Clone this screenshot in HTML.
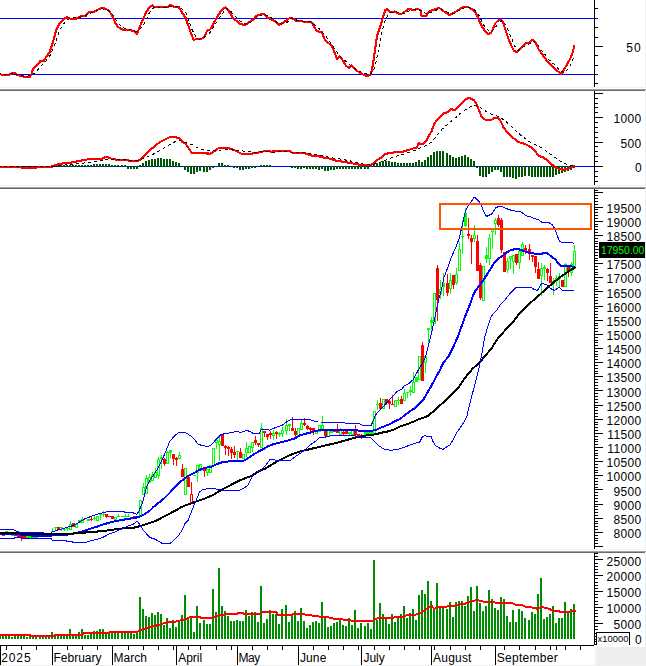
<!DOCTYPE html>
<html><head><meta charset="utf-8"><style>
html,body{margin:0;padding:0;background:#fff;}
body{width:646px;height:666px;overflow:hidden;}
svg{display:block;}
text{font-family:"Liberation Sans",sans-serif;}
</style></head><body>
<svg width="646" height="666" viewBox="0 0 646 666" shape-rendering="crispEdges">
<rect x="0" y="0" width="646" height="666" fill="#ffffff"/>
<rect x="0" y="18" width="594" height="1" fill="#0000ff"/>
<rect x="0" y="74" width="594" height="1" fill="#0000ff"/>
<polyline points="-2.00,73.90 0.00,73.90 2.00,75.20 5.20,75.20 9.20,74.80 12.40,72.90 15.00,73.20 17.00,75.20 20.90,75.80 24.80,76.90 30.10,76.90 31.40,74.50 32.70,69.90 35.30,66.70 39.20,62.70 40.50,60.80 43.80,60.80 45.80,57.50 49.70,52.30 51.60,46.40 54.20,37.90 55.60,32.00 58.20,25.50 61.40,21.60 64.70,18.30 67.30,17.30 71.20,19.00 75.80,19.00 80.00,16.70 83.30,15.90 85.90,15.70 88.50,12.40 90.50,11.80 94.40,11.50 98.30,9.40 101.60,8.10 104.80,8.50 107.50,9.80 110.10,12.40 112.70,17.00 115.30,22.90 117.90,26.80 121.80,29.40 125.80,29.80 129.70,29.80 133.60,31.10 136.90,34.00 138.80,29.40 141.40,22.90 144.10,17.00 146.00,12.40 148.60,8.50 152.50,5.20 154.50,7.20 157.10,7.20 160.00,6.50 163.90,7.00 167.80,7.00 170.50,5.00 173.10,6.50 179.00,7.30 181.60,11.80 185.50,17.60 188.10,24.80 190.70,32.70 193.70,39.90 197.90,38.60 201.80,38.60 204.40,36.60 207.10,30.70 210.30,29.40 213.60,23.50 217.50,16.30 221.40,10.50 225.40,7.20 229.30,11.80 233.20,18.30 236.50,20.90 240.00,24.20 245.20,24.80 249.20,22.20 253.10,19.60 256.30,15.90 259.60,14.60 263.50,13.70 267.50,17.60 271.40,19.60 274.60,20.90 278.60,24.80 281.80,23.50 285.80,20.90 290.30,17.60 292.30,18.30 296.20,20.70 301.40,21.20 305.40,22.00 310.60,21.60 313.20,24.80 316.50,30.70 320.00,32.00 322.00,32.00 324.60,39.20 327.80,42.50 331.80,45.80 334.40,52.30 337.00,58.80 339.60,56.20 342.20,59.50 346.10,66.00 349.40,68.00 351.40,65.40 355.30,69.30 359.20,72.50 363.10,74.50 367.10,76.10 371.00,74.50 372.90,64.10 374.90,51.00 376.90,36.60 379.50,28.80 382.10,20.30 385.40,9.80 387.30,9.20 390.60,12.40 394.50,11.50 397.10,13.10 400.00,14.10 403.30,13.10 407.80,8.90 410.50,9.40 414.40,9.80 418.30,8.90 420.90,11.10 421.60,15.70 426.10,15.70 428.80,12.00 432.00,10.20 435.30,9.20 439.20,7.80 442.50,10.50 445.80,12.80 449.70,15.00 453.60,13.10 457.50,10.50 461.40,7.80 465.40,6.80 468.60,7.20 471.90,9.20 475.20,11.80 477.80,17.00 480.00,22.90 482.60,27.50 485.90,32.00 488.50,34.20 491.10,32.70 493.10,28.80 495.00,23.50 497.60,20.90 500.70,19.30 502.90,22.20 505.50,30.10 508.10,37.90 511.40,45.80 514.00,51.00 516.60,52.00 520.50,48.40 525.80,43.10 529.00,42.50 532.60,39.90 535.20,41.80 539.20,50.30 543.10,55.60 547.00,60.80 550.90,65.40 554.80,68.60 558.10,71.60 561.40,74.20 564.00,69.30 567.30,64.10 570.50,58.20 572.50,52.90 574.40,45.80" fill="none" stroke="#ff0000" stroke-width="2.1" stroke-linejoin="round" stroke-linecap="round"/>
<polyline points="-2.00,73.20 0.00,73.20 3.90,74.50 7.80,74.80 13.10,73.20 18.30,75.20 26.10,76.50 31.40,75.20 34.60,73.20 39.20,68.00 44.40,62.70 49.70,56.20 54.90,44.40 58.80,32.70 62.70,24.80 66.70,20.30 70.60,18.30 80.00,17.30 85.20,15.90 90.50,13.10 95.70,11.10 100.90,8.90 106.10,9.20 110.10,11.80 114.00,16.30 117.90,22.90 121.80,26.80 125.80,29.00 132.30,30.30 136.20,31.40 140.10,29.00 144.10,24.20 147.30,17.00 150.60,10.50 154.50,7.20 160.00,7.00 166.50,7.20 171.80,6.00 179.00,7.00 182.90,9.80 186.10,13.10 188.80,20.30 192.00,29.40 195.30,35.90 199.20,39.20 203.10,37.90 207.10,35.30 211.60,30.70 216.20,22.90 220.10,17.00 224.10,11.10 226.70,8.50 230.60,11.10 235.20,16.30 240.00,20.90 245.20,24.20 250.50,22.20 255.70,18.30 260.90,15.40 264.80,14.40 268.80,16.30 274.00,19.60 277.90,23.50 281.80,24.20 287.10,22.20 291.00,18.30 294.90,19.60 300.10,20.90 305.40,21.60 310.60,22.00 314.50,24.80 320.00,29.50 322.60,32.40 326.50,37.30 331.80,44.40 335.70,50.30 339.60,55.60 344.80,60.10 348.80,64.10 354.00,68.00 359.20,71.20 364.40,73.20 369.70,74.50 372.30,72.50 374.90,66.70 377.50,54.90 380.10,41.80 382.70,28.80 385.40,19.60 388.00,15.00 391.20,12.40 395.80,11.50 400.00,13.10 403.90,13.70 407.80,11.50 413.10,9.80 418.30,9.40 421.60,11.10 426.10,13.70 431.40,12.40 435.30,10.50 439.20,8.90 444.40,10.50 449.70,13.70 454.90,13.10 460.10,9.80 465.40,7.20 469.30,7.60 474.50,9.80 478.40,14.40 480.00,17.00 482.60,23.50 486.50,28.80 490.50,32.00 494.40,28.80 498.30,23.50 501.60,20.90 505.50,24.20 508.10,30.10 511.40,37.90 514.60,45.80 517.90,50.30 523.10,47.10 528.40,44.40 533.60,41.20 537.50,44.40 541.40,50.30 545.40,54.90 549.30,60.10 554.50,64.70 558.10,68.60 561.40,71.90 565.30,72.20 569.20,67.30 571.80,62.10 574.40,56.20" fill="none" stroke="#000000" stroke-width="1" stroke-dasharray="3,3"/>
<rect x="0" y="166" width="594" height="1" fill="#0000ff"/>
<rect x="20" y="166" width="2" height="2" fill="#005500"/>
<rect x="23" y="166" width="2" height="2" fill="#005500"/>
<rect x="26" y="166" width="2" height="2" fill="#005500"/>
<rect x="29" y="166" width="2" height="2" fill="#005500"/>
<rect x="32" y="166" width="2" height="2" fill="#005500"/>
<rect x="35" y="166" width="2" height="2" fill="#005500"/>
<rect x="51" y="165" width="2" height="2" fill="#005500"/>
<rect x="54" y="165" width="2" height="2" fill="#005500"/>
<rect x="57" y="165" width="2" height="2" fill="#005500"/>
<rect x="60" y="165" width="2" height="2" fill="#005500"/>
<rect x="63" y="165" width="2" height="2" fill="#005500"/>
<rect x="66" y="165" width="2" height="2" fill="#005500"/>
<rect x="69" y="165" width="2" height="2" fill="#005500"/>
<rect x="72" y="165" width="2" height="2" fill="#005500"/>
<rect x="75" y="165" width="2" height="2" fill="#005500"/>
<rect x="78" y="165" width="2" height="2" fill="#005500"/>
<rect x="81" y="165" width="2" height="2" fill="#005500"/>
<rect x="84" y="165" width="2" height="2" fill="#005500"/>
<rect x="87" y="165" width="2" height="2" fill="#005500"/>
<rect x="90" y="165" width="2" height="2" fill="#005500"/>
<rect x="93" y="164" width="2" height="3" fill="#005500"/>
<rect x="96" y="164" width="2" height="3" fill="#005500"/>
<rect x="99" y="164" width="2" height="3" fill="#005500"/>
<rect x="102" y="164" width="2" height="3" fill="#005500"/>
<rect x="105" y="164" width="2" height="3" fill="#005500"/>
<rect x="108" y="164" width="2" height="3" fill="#005500"/>
<rect x="111" y="165" width="2" height="2" fill="#005500"/>
<rect x="114" y="165" width="2" height="2" fill="#005500"/>
<rect x="117" y="165" width="2" height="2" fill="#005500"/>
<rect x="121" y="165" width="2" height="2" fill="#005500"/>
<rect x="124" y="165" width="2" height="2" fill="#005500"/>
<rect x="127" y="166" width="2" height="3" fill="#005500"/>
<rect x="130" y="166" width="2" height="3" fill="#005500"/>
<rect x="133" y="166" width="2" height="3" fill="#005500"/>
<rect x="136" y="166" width="2" height="3" fill="#005500"/>
<rect x="139" y="165" width="2" height="2" fill="#005500"/>
<rect x="142" y="163" width="2" height="4" fill="#005500"/>
<rect x="145" y="161" width="2" height="6" fill="#005500"/>
<rect x="148" y="160" width="2" height="7" fill="#005500"/>
<rect x="151" y="159" width="2" height="8" fill="#005500"/>
<rect x="154" y="159" width="2" height="8" fill="#005500"/>
<rect x="157" y="158" width="2" height="9" fill="#005500"/>
<rect x="160" y="158" width="2" height="9" fill="#005500"/>
<rect x="163" y="159" width="2" height="8" fill="#005500"/>
<rect x="166" y="159" width="2" height="8" fill="#005500"/>
<rect x="169" y="159" width="2" height="8" fill="#005500"/>
<rect x="172" y="161" width="2" height="6" fill="#005500"/>
<rect x="175" y="162" width="2" height="5" fill="#005500"/>
<rect x="178" y="163" width="2" height="4" fill="#005500"/>
<rect x="184" y="166" width="2" height="4" fill="#005500"/>
<rect x="187" y="166" width="2" height="6" fill="#005500"/>
<rect x="190" y="166" width="2" height="8" fill="#005500"/>
<rect x="193" y="166" width="2" height="8" fill="#005500"/>
<rect x="196" y="166" width="2" height="6" fill="#005500"/>
<rect x="199" y="166" width="2" height="5" fill="#005500"/>
<rect x="203" y="166" width="2" height="6" fill="#005500"/>
<rect x="206" y="166" width="2" height="6" fill="#005500"/>
<rect x="209" y="166" width="2" height="4" fill="#005500"/>
<rect x="212" y="166" width="2" height="2" fill="#005500"/>
<rect x="218" y="163" width="2" height="4" fill="#005500"/>
<rect x="221" y="163" width="2" height="4" fill="#005500"/>
<rect x="224" y="165" width="2" height="2" fill="#005500"/>
<rect x="227" y="165" width="2" height="2" fill="#005500"/>
<rect x="233" y="166" width="2" height="2" fill="#005500"/>
<rect x="236" y="166" width="2" height="2" fill="#005500"/>
<rect x="239" y="166" width="2" height="4" fill="#005500"/>
<rect x="242" y="166" width="2" height="4" fill="#005500"/>
<rect x="245" y="166" width="2" height="3" fill="#005500"/>
<rect x="248" y="166" width="2" height="3" fill="#005500"/>
<rect x="251" y="166" width="2" height="2" fill="#005500"/>
<rect x="254" y="166" width="2" height="2" fill="#005500"/>
<rect x="260" y="165" width="2" height="2" fill="#005500"/>
<rect x="263" y="165" width="2" height="2" fill="#005500"/>
<rect x="266" y="165" width="2" height="2" fill="#005500"/>
<rect x="269" y="165" width="2" height="2" fill="#005500"/>
<rect x="291" y="166" width="2" height="2" fill="#005500"/>
<rect x="294" y="166" width="2" height="2" fill="#005500"/>
<rect x="297" y="166" width="2" height="3" fill="#005500"/>
<rect x="300" y="166" width="2" height="3" fill="#005500"/>
<rect x="303" y="166" width="2" height="2" fill="#005500"/>
<rect x="306" y="166" width="2" height="3" fill="#005500"/>
<rect x="309" y="166" width="2" height="3" fill="#005500"/>
<rect x="312" y="166" width="2" height="3" fill="#005500"/>
<rect x="315" y="166" width="2" height="3" fill="#005500"/>
<rect x="318" y="166" width="2" height="4" fill="#005500"/>
<rect x="321" y="166" width="2" height="3" fill="#005500"/>
<rect x="324" y="166" width="2" height="5" fill="#005500"/>
<rect x="327" y="166" width="2" height="5" fill="#005500"/>
<rect x="330" y="166" width="2" height="4" fill="#005500"/>
<rect x="333" y="166" width="2" height="4" fill="#005500"/>
<rect x="336" y="166" width="2" height="3" fill="#005500"/>
<rect x="339" y="166" width="2" height="3" fill="#005500"/>
<rect x="342" y="166" width="2" height="3" fill="#005500"/>
<rect x="345" y="166" width="2" height="3" fill="#005500"/>
<rect x="348" y="166" width="2" height="3" fill="#005500"/>
<rect x="351" y="166" width="2" height="3" fill="#005500"/>
<rect x="354" y="166" width="2" height="3" fill="#005500"/>
<rect x="357" y="166" width="2" height="3" fill="#005500"/>
<rect x="360" y="166" width="2" height="3" fill="#005500"/>
<rect x="364" y="166" width="2" height="3" fill="#005500"/>
<rect x="367" y="166" width="2" height="3" fill="#005500"/>
<rect x="370" y="165" width="2" height="2" fill="#005500"/>
<rect x="373" y="164" width="2" height="3" fill="#005500"/>
<rect x="376" y="163" width="2" height="4" fill="#005500"/>
<rect x="379" y="162" width="2" height="5" fill="#005500"/>
<rect x="382" y="161" width="2" height="6" fill="#005500"/>
<rect x="385" y="161" width="2" height="6" fill="#005500"/>
<rect x="388" y="161" width="2" height="6" fill="#005500"/>
<rect x="391" y="162" width="2" height="5" fill="#005500"/>
<rect x="394" y="162" width="2" height="5" fill="#005500"/>
<rect x="397" y="163" width="2" height="4" fill="#005500"/>
<rect x="400" y="163" width="2" height="4" fill="#005500"/>
<rect x="403" y="163" width="2" height="4" fill="#005500"/>
<rect x="406" y="163" width="2" height="4" fill="#005500"/>
<rect x="409" y="163" width="2" height="4" fill="#005500"/>
<rect x="412" y="163" width="2" height="4" fill="#005500"/>
<rect x="415" y="162" width="2" height="5" fill="#005500"/>
<rect x="418" y="160" width="2" height="7" fill="#005500"/>
<rect x="421" y="162" width="2" height="5" fill="#005500"/>
<rect x="424" y="160" width="2" height="7" fill="#005500"/>
<rect x="427" y="157" width="2" height="10" fill="#005500"/>
<rect x="430" y="155" width="2" height="12" fill="#005500"/>
<rect x="433" y="152" width="2" height="15" fill="#005500"/>
<rect x="436" y="151" width="2" height="16" fill="#005500"/>
<rect x="439" y="151" width="2" height="16" fill="#005500"/>
<rect x="442" y="151" width="2" height="16" fill="#005500"/>
<rect x="446" y="153" width="2" height="14" fill="#005500"/>
<rect x="449" y="155" width="2" height="12" fill="#005500"/>
<rect x="452" y="157" width="2" height="10" fill="#005500"/>
<rect x="455" y="158" width="2" height="9" fill="#005500"/>
<rect x="458" y="157" width="2" height="10" fill="#005500"/>
<rect x="461" y="156" width="2" height="11" fill="#005500"/>
<rect x="464" y="155" width="2" height="12" fill="#005500"/>
<rect x="467" y="157" width="2" height="10" fill="#005500"/>
<rect x="470" y="159" width="2" height="8" fill="#005500"/>
<rect x="473" y="161" width="2" height="6" fill="#005500"/>
<rect x="476" y="166" width="2" height="2" fill="#005500"/>
<rect x="479" y="166" width="2" height="10" fill="#005500"/>
<rect x="482" y="166" width="2" height="11" fill="#005500"/>
<rect x="485" y="166" width="2" height="11" fill="#005500"/>
<rect x="488" y="166" width="2" height="8" fill="#005500"/>
<rect x="491" y="166" width="2" height="6" fill="#005500"/>
<rect x="494" y="166" width="2" height="4" fill="#005500"/>
<rect x="497" y="166" width="2" height="4" fill="#005500"/>
<rect x="500" y="166" width="2" height="6" fill="#005500"/>
<rect x="503" y="166" width="2" height="11" fill="#005500"/>
<rect x="506" y="166" width="2" height="11" fill="#005500"/>
<rect x="509" y="166" width="2" height="11" fill="#005500"/>
<rect x="512" y="166" width="2" height="12" fill="#005500"/>
<rect x="515" y="166" width="2" height="13" fill="#005500"/>
<rect x="518" y="166" width="2" height="11" fill="#005500"/>
<rect x="521" y="166" width="2" height="11" fill="#005500"/>
<rect x="524" y="166" width="2" height="10" fill="#005500"/>
<rect x="528" y="166" width="2" height="10" fill="#005500"/>
<rect x="531" y="166" width="2" height="11" fill="#005500"/>
<rect x="534" y="166" width="2" height="11" fill="#005500"/>
<rect x="537" y="166" width="2" height="11" fill="#005500"/>
<rect x="540" y="166" width="2" height="11" fill="#005500"/>
<rect x="543" y="166" width="2" height="11" fill="#005500"/>
<rect x="546" y="166" width="2" height="11" fill="#005500"/>
<rect x="549" y="166" width="2" height="11" fill="#005500"/>
<rect x="552" y="166" width="2" height="11" fill="#005500"/>
<rect x="555" y="166" width="2" height="9" fill="#005500"/>
<rect x="558" y="166" width="2" height="8" fill="#005500"/>
<rect x="561" y="166" width="2" height="7" fill="#005500"/>
<rect x="564" y="166" width="2" height="6" fill="#005500"/>
<rect x="567" y="166" width="2" height="5" fill="#005500"/>
<rect x="570" y="166" width="2" height="4" fill="#005500"/>
<rect x="573" y="166" width="2" height="2" fill="#005500"/>
<polyline points="-2.00,166.60 0.00,166.60 20.10,166.60 21.70,168.20 35.60,168.20 37.90,167.10 52.60,166.60 55.70,164.80 61.90,163.50 69.70,162.90 77.40,161.40 85.10,159.80 92.90,158.60 102.40,158.60 104.30,157.40 108.60,157.40 111.10,158.60 114.80,159.00 116.10,159.90 127.20,159.90 129.10,160.90 138.30,160.90 140.80,159.00 144.50,155.30 149.50,150.30 154.40,146.60 159.40,142.30 162.50,140.80 165.60,139.20 169.30,137.30 172.40,136.70 174.60,137.40 179.30,137.70 182.40,142.00 185.50,143.30 188.60,148.20 191.70,152.90 199.40,153.20 210.20,153.60 213.30,152.10 218.00,148.50 222.60,147.90 228.80,148.20 233.50,149.80 238.10,152.10 241.20,153.60 252.00,153.60 261.30,152.10 266.00,150.50 271.20,151.60 286.70,151.00 289.80,151.30 292.90,152.90 303.70,152.90 306.80,154.00 311.40,155.50 317.60,156.00 323.80,157.50 330.00,158.70 334.70,160.30 342.40,161.70 350.10,162.90 357.90,164.50 366.60,164.90 373.20,164.40 377.20,160.00 380.50,158.10 383.80,154.70 387.70,153.40 391.70,152.80 397.00,152.10 402.30,152.10 405.60,150.80 410.20,149.50 414.20,148.10 416.80,147.50 418.80,142.90 420.80,144.20 423.40,143.50 426.10,140.90 428.70,136.30 432.00,130.30 434.00,124.40 436.60,120.40 439.00,117.80 443.60,112.90 446.90,112.50 450.90,109.40 455.50,109.80 460.10,105.20 465.40,99.30 468.70,97.90 473.30,99.70 476.00,102.60 478.60,109.20 481.20,115.80 485.20,119.70 491.80,119.70 494.40,117.80 498.40,118.20 501.00,121.70 503.70,127.70 506.30,131.00 509.10,133.80 513.30,137.90 518.10,142.00 522.90,143.40 527.00,144.80 531.20,147.50 535.30,151.70 539.40,156.10 543.60,157.50 547.70,160.60 551.80,164.40 554.60,166.80 558.70,168.90 562.90,169.90 567.00,168.90 571.10,167.50 573.90,165.70" fill="none" stroke="#ff0000" stroke-width="2.1" stroke-linejoin="round" stroke-linecap="round"/>
<polyline points="-2.00,166.50 0.00,166.50 50.00,167.00 60.00,165.50 80.00,163.50 95.00,161.50 102.40,160.20 109.90,159.00 119.80,159.40 129.70,160.20 138.30,160.20 144.50,158.40 149.50,155.90 156.90,152.40 163.10,148.50 169.30,144.80 174.60,142.00 179.30,140.50 185.50,142.30 193.20,145.10 199.40,149.00 205.60,150.50 211.80,151.00 218.00,150.50 224.20,149.50 231.90,149.30 239.70,150.50 247.40,151.60 255.10,152.10 262.90,151.60 274.30,152.10 286.70,151.60 296.00,152.60 305.20,152.90 311.40,153.60 319.20,155.20 326.90,156.70 334.70,158.30 342.40,159.40 350.10,160.90 357.90,162.90 365.00,164.50 367.90,164.40 374.50,164.00 381.10,162.00 386.40,160.00 391.70,157.80 397.00,156.10 402.30,154.70 407.60,152.80 412.80,151.20 418.10,148.80 423.40,146.80 428.70,144.20 432.00,141.50 435.30,137.60 441.60,129.60 448.20,123.70 454.80,118.40 461.40,112.50 468.00,107.90 473.30,105.20 477.30,105.90 482.60,109.20 487.80,112.50 493.10,115.10 498.40,116.40 503.70,119.70 510.50,125.50 516.00,131.00 521.50,135.80 527.00,140.00 532.50,143.40 538.10,146.20 543.60,149.00 549.10,153.10 554.60,157.20 560.10,161.00 565.60,163.80 569.70,165.50 573.90,166.10" fill="none" stroke="#000000" stroke-width="1" stroke-dasharray="3,3"/>
<rect x="0" y="533" width="1" height="2" fill="#00ff00"/>
<rect x="-1" y="533" width="3" height="2" fill="#00ff00"/>
<rect x="3" y="535" width="1" height="1" fill="#ff0000"/>
<rect x="2" y="535" width="3" height="1" fill="#ff0000"/>
<rect x="6" y="531" width="1" height="2" fill="#00ff00"/>
<rect x="5" y="531" width="3" height="2" fill="#00ff00"/>
<rect x="9" y="533" width="1" height="2" fill="#00ff00"/>
<rect x="8" y="533" width="3" height="2" fill="#00ff00"/>
<rect x="12" y="535" width="1" height="1" fill="#00ff00"/>
<rect x="11" y="535" width="3" height="1" fill="#00ff00"/>
<rect x="15" y="535" width="1" height="1" fill="#ff0000"/>
<rect x="14" y="535" width="3" height="1" fill="#ff0000"/>
<rect x="18" y="535" width="1" height="3" fill="#ff0000"/>
<rect x="17" y="535" width="3" height="3" fill="#ff0000"/>
<rect x="21" y="536" width="1" height="5" fill="#ff0000"/>
<rect x="20" y="536" width="3" height="2" fill="#ff0000"/>
<rect x="24" y="536" width="1" height="2" fill="#ff0000"/>
<rect x="23" y="536" width="3" height="2" fill="#ff0000"/>
<rect x="27" y="536" width="1" height="2" fill="#00ff00"/>
<rect x="26" y="536" width="3" height="2" fill="#00ff00"/>
<rect x="30" y="536" width="1" height="2" fill="#00ff00"/>
<rect x="29" y="536" width="3" height="2" fill="#00ff00"/>
<rect x="33" y="536" width="1" height="2" fill="#00ff00"/>
<rect x="32" y="536" width="3" height="2" fill="#00ff00"/>
<rect x="36" y="536" width="1" height="2" fill="#00ff00"/>
<rect x="35" y="536" width="3" height="2" fill="#00ff00"/>
<rect x="40" y="533" width="1" height="3" fill="#00ff00"/>
<rect x="39" y="533" width="3" height="3" fill="#00ff00"/>
<rect x="43" y="533" width="1" height="3" fill="#00ff00"/>
<rect x="42" y="533" width="3" height="3" fill="#00ff00"/>
<rect x="46" y="533" width="1" height="3" fill="#ff0000"/>
<rect x="45" y="533" width="3" height="3" fill="#ff0000"/>
<rect x="49" y="533" width="1" height="3" fill="#00ff00"/>
<rect x="48" y="533" width="3" height="3" fill="#00ff00"/>
<rect x="52" y="528" width="1" height="4" fill="#00ff00"/>
<rect x="51" y="531" width="3" height="1" fill="#00ff00"/>
<rect x="55" y="527" width="1" height="4" fill="#00ff00"/>
<rect x="54" y="527" width="3" height="1" fill="#00ff00"/>
<rect x="58" y="527" width="1" height="3" fill="#ff0000"/>
<rect x="57" y="527" width="3" height="3" fill="#ff0000"/>
<rect x="61" y="527" width="1" height="4" fill="#00ff00"/>
<rect x="60" y="527" width="3" height="1" fill="#00ff00"/>
<rect x="64" y="528" width="1" height="3" fill="#00ff00"/>
<rect x="63" y="529" width="3" height="1" fill="#00ff00"/>
<rect x="67" y="528" width="1" height="3" fill="#00ff00"/>
<rect x="66" y="528" width="3" height="1" fill="#00ff00"/>
<rect x="70" y="521" width="1" height="9" fill="#00ff00"/>
<rect x="69" y="524" width="3" height="6" fill="#00ff00"/>
<rect x="70" y="525" width="1" height="4" fill="#ffffff"/>
<rect x="73" y="523" width="1" height="4" fill="#ff0000"/>
<rect x="72" y="523" width="3" height="4" fill="#ff0000"/>
<rect x="76" y="524" width="1" height="4" fill="#00ff00"/>
<rect x="75" y="524" width="3" height="4" fill="#00ff00"/>
<rect x="76" y="525" width="1" height="2" fill="#ffffff"/>
<rect x="79" y="520" width="1" height="3" fill="#00ff00"/>
<rect x="78" y="520" width="3" height="3" fill="#00ff00"/>
<rect x="82" y="517" width="1" height="6" fill="#00ff00"/>
<rect x="81" y="519" width="3" height="4" fill="#00ff00"/>
<rect x="82" y="520" width="1" height="2" fill="#ffffff"/>
<rect x="85" y="518" width="1" height="1" fill="#ff0000"/>
<rect x="84" y="518" width="3" height="1" fill="#ff0000"/>
<rect x="88" y="519" width="1" height="2" fill="#00ff00"/>
<rect x="87" y="519" width="3" height="2" fill="#00ff00"/>
<rect x="91" y="517" width="1" height="4" fill="#ff0000"/>
<rect x="90" y="519" width="3" height="1" fill="#ff0000"/>
<rect x="94" y="516" width="1" height="5" fill="#00ff00"/>
<rect x="93" y="518" width="3" height="1" fill="#00ff00"/>
<rect x="97" y="516" width="1" height="5" fill="#00ff00"/>
<rect x="96" y="516" width="3" height="5" fill="#00ff00"/>
<rect x="97" y="517" width="1" height="3" fill="#ffffff"/>
<rect x="100" y="514" width="1" height="6" fill="#00ff00"/>
<rect x="99" y="514" width="3" height="1" fill="#00ff00"/>
<rect x="103" y="511" width="1" height="6" fill="#00ff00"/>
<rect x="102" y="514" width="3" height="1" fill="#00ff00"/>
<rect x="106" y="514" width="1" height="4" fill="#ff0000"/>
<rect x="105" y="514" width="3" height="3" fill="#ff0000"/>
<rect x="109" y="516" width="1" height="1" fill="#ff0000"/>
<rect x="108" y="516" width="3" height="1" fill="#ff0000"/>
<rect x="112" y="516" width="1" height="3" fill="#ff0000"/>
<rect x="111" y="516" width="3" height="3" fill="#ff0000"/>
<rect x="115" y="517" width="1" height="3" fill="#00ff00"/>
<rect x="114" y="517" width="3" height="3" fill="#00ff00"/>
<rect x="115" y="518" width="1" height="1" fill="#ffffff"/>
<rect x="118" y="514" width="1" height="3" fill="#00ff00"/>
<rect x="117" y="516" width="3" height="1" fill="#00ff00"/>
<rect x="122" y="516" width="1" height="1" fill="#00ff00"/>
<rect x="121" y="516" width="3" height="1" fill="#00ff00"/>
<rect x="125" y="514" width="1" height="3" fill="#00ff00"/>
<rect x="124" y="516" width="3" height="1" fill="#00ff00"/>
<rect x="128" y="514" width="1" height="3" fill="#00ff00"/>
<rect x="127" y="516" width="3" height="1" fill="#00ff00"/>
<rect x="131" y="517" width="1" height="2" fill="#ff0000"/>
<rect x="130" y="517" width="3" height="2" fill="#ff0000"/>
<rect x="134" y="516" width="1" height="2" fill="#ff0000"/>
<rect x="133" y="516" width="3" height="2" fill="#ff0000"/>
<rect x="137" y="516" width="1" height="2" fill="#00ff00"/>
<rect x="136" y="516" width="3" height="2" fill="#00ff00"/>
<rect x="140" y="500" width="1" height="16" fill="#00ff00"/>
<rect x="139" y="500" width="3" height="16" fill="#00ff00"/>
<rect x="140" y="501" width="1" height="14" fill="#ffffff"/>
<rect x="143" y="483" width="1" height="12" fill="#00ff00"/>
<rect x="142" y="487" width="3" height="8" fill="#00ff00"/>
<rect x="143" y="488" width="1" height="6" fill="#ffffff"/>
<rect x="146" y="475" width="1" height="19" fill="#00ff00"/>
<rect x="145" y="478" width="3" height="16" fill="#00ff00"/>
<rect x="146" y="479" width="1" height="14" fill="#ffffff"/>
<rect x="149" y="474" width="1" height="9" fill="#00ff00"/>
<rect x="148" y="477" width="3" height="6" fill="#00ff00"/>
<rect x="149" y="478" width="1" height="4" fill="#ffffff"/>
<rect x="152" y="472" width="1" height="9" fill="#00ff00"/>
<rect x="151" y="475" width="3" height="6" fill="#00ff00"/>
<rect x="152" y="476" width="1" height="4" fill="#ffffff"/>
<rect x="155" y="468" width="1" height="10" fill="#00ff00"/>
<rect x="154" y="472" width="3" height="6" fill="#00ff00"/>
<rect x="155" y="473" width="1" height="4" fill="#ffffff"/>
<rect x="158" y="457" width="1" height="22" fill="#00ff00"/>
<rect x="157" y="459" width="3" height="17" fill="#00ff00"/>
<rect x="158" y="460" width="1" height="15" fill="#ffffff"/>
<rect x="161" y="455" width="1" height="14" fill="#00ff00"/>
<rect x="160" y="457" width="3" height="2" fill="#00ff00"/>
<rect x="164" y="458" width="1" height="8" fill="#ff0000"/>
<rect x="163" y="459" width="3" height="5" fill="#ff0000"/>
<rect x="167" y="451" width="1" height="13" fill="#00ff00"/>
<rect x="166" y="452" width="3" height="12" fill="#00ff00"/>
<rect x="167" y="453" width="1" height="10" fill="#ffffff"/>
<rect x="170" y="450" width="1" height="8" fill="#00ff00"/>
<rect x="169" y="450" width="3" height="3" fill="#00ff00"/>
<rect x="173" y="454" width="1" height="11" fill="#ff0000"/>
<rect x="172" y="454" width="3" height="5" fill="#ff0000"/>
<rect x="176" y="457" width="1" height="9" fill="#ff0000"/>
<rect x="175" y="458" width="3" height="2" fill="#ff0000"/>
<rect x="179" y="452" width="1" height="7" fill="#00ff00"/>
<rect x="178" y="455" width="3" height="4" fill="#00ff00"/>
<rect x="179" y="456" width="1" height="2" fill="#ffffff"/>
<rect x="182" y="464" width="1" height="13" fill="#ff0000"/>
<rect x="181" y="469" width="3" height="8" fill="#ff0000"/>
<rect x="185" y="468" width="1" height="27" fill="#00ff00"/>
<rect x="184" y="468" width="3" height="27" fill="#00ff00"/>
<rect x="185" y="469" width="1" height="25" fill="#ffffff"/>
<rect x="188" y="475" width="1" height="12" fill="#ff0000"/>
<rect x="187" y="477" width="3" height="10" fill="#ff0000"/>
<rect x="191" y="482" width="1" height="22" fill="#ff0000"/>
<rect x="190" y="494" width="3" height="10" fill="#ff0000"/>
<rect x="191" y="495" width="1" height="8" fill="#ffffff"/>
<rect x="194" y="475" width="1" height="1" fill="#00ff00"/>
<rect x="193" y="475" width="3" height="1" fill="#00ff00"/>
<rect x="197" y="465" width="1" height="17" fill="#00ff00"/>
<rect x="196" y="465" width="3" height="8" fill="#00ff00"/>
<rect x="197" y="466" width="1" height="6" fill="#ffffff"/>
<rect x="200" y="464" width="1" height="7" fill="#00ff00"/>
<rect x="199" y="464" width="3" height="7" fill="#00ff00"/>
<rect x="200" y="465" width="1" height="5" fill="#ffffff"/>
<rect x="204" y="467" width="1" height="10" fill="#ff0000"/>
<rect x="203" y="469" width="3" height="2" fill="#ff0000"/>
<rect x="207" y="469" width="1" height="7" fill="#00ff00"/>
<rect x="206" y="469" width="3" height="4" fill="#00ff00"/>
<rect x="207" y="470" width="1" height="2" fill="#ffffff"/>
<rect x="210" y="465" width="1" height="8" fill="#00ff00"/>
<rect x="209" y="465" width="3" height="8" fill="#00ff00"/>
<rect x="210" y="466" width="1" height="6" fill="#ffffff"/>
<rect x="213" y="448" width="1" height="18" fill="#00ff00"/>
<rect x="212" y="448" width="3" height="18" fill="#00ff00"/>
<rect x="213" y="449" width="1" height="16" fill="#ffffff"/>
<rect x="216" y="438" width="1" height="11" fill="#00ff00"/>
<rect x="215" y="440" width="3" height="3" fill="#00ff00"/>
<rect x="216" y="441" width="1" height="1" fill="#ffffff"/>
<rect x="219" y="437" width="1" height="24" fill="#00ff00"/>
<rect x="218" y="441" width="3" height="4" fill="#00ff00"/>
<rect x="219" y="442" width="1" height="2" fill="#ffffff"/>
<rect x="222" y="435" width="1" height="11" fill="#ff0000"/>
<rect x="221" y="435" width="3" height="11" fill="#ff0000"/>
<rect x="225" y="445" width="1" height="10" fill="#ff0000"/>
<rect x="224" y="446" width="3" height="2" fill="#ff0000"/>
<rect x="228" y="446" width="1" height="10" fill="#ff0000"/>
<rect x="227" y="447" width="3" height="2" fill="#ff0000"/>
<rect x="231" y="447" width="1" height="12" fill="#ff0000"/>
<rect x="230" y="449" width="3" height="4" fill="#ff0000"/>
<rect x="234" y="446" width="1" height="12" fill="#ff0000"/>
<rect x="233" y="452" width="3" height="3" fill="#ff0000"/>
<rect x="237" y="451" width="1" height="10" fill="#00ff00"/>
<rect x="236" y="451" width="3" height="1" fill="#00ff00"/>
<rect x="240" y="448" width="1" height="10" fill="#ff0000"/>
<rect x="239" y="452" width="3" height="6" fill="#ff0000"/>
<rect x="243" y="454" width="1" height="5" fill="#00ff00"/>
<rect x="242" y="454" width="3" height="5" fill="#00ff00"/>
<rect x="243" y="455" width="1" height="3" fill="#ffffff"/>
<rect x="246" y="442" width="1" height="15" fill="#00ff00"/>
<rect x="245" y="448" width="3" height="5" fill="#00ff00"/>
<rect x="246" y="449" width="1" height="3" fill="#ffffff"/>
<rect x="249" y="446" width="1" height="7" fill="#00ff00"/>
<rect x="248" y="446" width="3" height="7" fill="#00ff00"/>
<rect x="249" y="447" width="1" height="5" fill="#ffffff"/>
<rect x="252" y="442" width="1" height="10" fill="#00ff00"/>
<rect x="251" y="442" width="3" height="6" fill="#00ff00"/>
<rect x="252" y="443" width="1" height="4" fill="#ffffff"/>
<rect x="255" y="436" width="1" height="9" fill="#ff0000"/>
<rect x="254" y="440" width="3" height="3" fill="#ff0000"/>
<rect x="258" y="443" width="1" height="4" fill="#ff0000"/>
<rect x="257" y="443" width="3" height="2" fill="#ff0000"/>
<rect x="261" y="423" width="1" height="25" fill="#00ff00"/>
<rect x="260" y="428" width="3" height="20" fill="#00ff00"/>
<rect x="261" y="429" width="1" height="18" fill="#ffffff"/>
<rect x="264" y="431" width="1" height="6" fill="#ff0000"/>
<rect x="263" y="431" width="3" height="2" fill="#ff0000"/>
<rect x="267" y="434" width="1" height="6" fill="#ff0000"/>
<rect x="266" y="434" width="3" height="3" fill="#ff0000"/>
<rect x="270" y="431" width="1" height="8" fill="#ff0000"/>
<rect x="269" y="433" width="3" height="2" fill="#ff0000"/>
<rect x="273" y="430" width="1" height="10" fill="#00ff00"/>
<rect x="272" y="433" width="3" height="3" fill="#00ff00"/>
<rect x="273" y="434" width="1" height="1" fill="#ffffff"/>
<rect x="276" y="431" width="1" height="8" fill="#ff0000"/>
<rect x="275" y="432" width="3" height="2" fill="#ff0000"/>
<rect x="279" y="432" width="1" height="5" fill="#00ff00"/>
<rect x="278" y="433" width="3" height="2" fill="#00ff00"/>
<rect x="282" y="427" width="1" height="10" fill="#00ff00"/>
<rect x="281" y="430" width="3" height="4" fill="#00ff00"/>
<rect x="282" y="431" width="1" height="2" fill="#ffffff"/>
<rect x="286" y="419" width="1" height="16" fill="#00ff00"/>
<rect x="285" y="425" width="3" height="6" fill="#00ff00"/>
<rect x="286" y="426" width="1" height="4" fill="#ffffff"/>
<rect x="289" y="424" width="1" height="7" fill="#00ff00"/>
<rect x="288" y="424" width="3" height="2" fill="#00ff00"/>
<rect x="292" y="417" width="1" height="14" fill="#ff0000"/>
<rect x="291" y="428" width="3" height="3" fill="#ff0000"/>
<rect x="295" y="428" width="1" height="10" fill="#ff0000"/>
<rect x="294" y="431" width="3" height="4" fill="#ff0000"/>
<rect x="298" y="428" width="1" height="8" fill="#00ff00"/>
<rect x="297" y="428" width="3" height="8" fill="#00ff00"/>
<rect x="298" y="429" width="1" height="6" fill="#ffffff"/>
<rect x="301" y="420" width="1" height="10" fill="#00ff00"/>
<rect x="300" y="423" width="3" height="7" fill="#00ff00"/>
<rect x="301" y="424" width="1" height="5" fill="#ffffff"/>
<rect x="304" y="418" width="1" height="8" fill="#ff0000"/>
<rect x="303" y="423" width="3" height="2" fill="#ff0000"/>
<rect x="307" y="425" width="1" height="5" fill="#ff0000"/>
<rect x="306" y="426" width="3" height="3" fill="#ff0000"/>
<rect x="310" y="427" width="1" height="4" fill="#ff0000"/>
<rect x="309" y="428" width="3" height="2" fill="#ff0000"/>
<rect x="313" y="428" width="1" height="7" fill="#ff0000"/>
<rect x="312" y="428" width="3" height="3" fill="#ff0000"/>
<rect x="316" y="430" width="1" height="4" fill="#00ff00"/>
<rect x="315" y="430" width="3" height="4" fill="#00ff00"/>
<rect x="316" y="431" width="1" height="2" fill="#ffffff"/>
<rect x="319" y="425" width="1" height="7" fill="#00ff00"/>
<rect x="318" y="425" width="3" height="7" fill="#00ff00"/>
<rect x="319" y="426" width="1" height="5" fill="#ffffff"/>
<rect x="322" y="416" width="1" height="13" fill="#00ff00"/>
<rect x="321" y="425" width="3" height="4" fill="#00ff00"/>
<rect x="322" y="426" width="1" height="2" fill="#ffffff"/>
<rect x="325" y="430" width="1" height="8" fill="#ff0000"/>
<rect x="324" y="430" width="3" height="6" fill="#ff0000"/>
<rect x="328" y="430" width="1" height="7" fill="#00ff00"/>
<rect x="327" y="430" width="3" height="7" fill="#00ff00"/>
<rect x="328" y="431" width="1" height="5" fill="#ffffff"/>
<rect x="331" y="430" width="1" height="3" fill="#00ff00"/>
<rect x="330" y="430" width="3" height="3" fill="#00ff00"/>
<rect x="334" y="430" width="1" height="2" fill="#ff0000"/>
<rect x="333" y="430" width="3" height="2" fill="#ff0000"/>
<rect x="337" y="424" width="1" height="9" fill="#ff0000"/>
<rect x="336" y="430" width="3" height="3" fill="#ff0000"/>
<rect x="340" y="428" width="1" height="7" fill="#00ff00"/>
<rect x="339" y="430" width="3" height="5" fill="#00ff00"/>
<rect x="340" y="431" width="1" height="3" fill="#ffffff"/>
<rect x="343" y="431" width="1" height="5" fill="#ff0000"/>
<rect x="342" y="432" width="3" height="2" fill="#ff0000"/>
<rect x="346" y="431" width="1" height="3" fill="#ff0000"/>
<rect x="345" y="431" width="3" height="3" fill="#ff0000"/>
<rect x="349" y="432" width="1" height="3" fill="#00ff00"/>
<rect x="348" y="432" width="3" height="2" fill="#00ff00"/>
<rect x="352" y="430" width="1" height="5" fill="#00ff00"/>
<rect x="351" y="430" width="3" height="5" fill="#00ff00"/>
<rect x="352" y="431" width="1" height="3" fill="#ffffff"/>
<rect x="355" y="425" width="1" height="11" fill="#ff0000"/>
<rect x="354" y="431" width="3" height="4" fill="#ff0000"/>
<rect x="358" y="434" width="1" height="2" fill="#ff0000"/>
<rect x="357" y="434" width="3" height="2" fill="#ff0000"/>
<rect x="361" y="434" width="1" height="5" fill="#ff0000"/>
<rect x="360" y="435" width="3" height="2" fill="#ff0000"/>
<rect x="365" y="432" width="1" height="3" fill="#00ff00"/>
<rect x="364" y="432" width="3" height="3" fill="#00ff00"/>
<rect x="368" y="432" width="1" height="3" fill="#00ff00"/>
<rect x="367" y="432" width="3" height="3" fill="#00ff00"/>
<rect x="371" y="432" width="1" height="3" fill="#00ff00"/>
<rect x="370" y="432" width="3" height="3" fill="#00ff00"/>
<rect x="374" y="411" width="1" height="23" fill="#00ff00"/>
<rect x="373" y="411" width="3" height="23" fill="#00ff00"/>
<rect x="374" y="412" width="1" height="21" fill="#ffffff"/>
<rect x="377" y="400" width="1" height="10" fill="#00ff00"/>
<rect x="376" y="404" width="3" height="1" fill="#00ff00"/>
<rect x="380" y="398" width="1" height="12" fill="#ff0000"/>
<rect x="379" y="403" width="3" height="6" fill="#ff0000"/>
<rect x="383" y="399" width="1" height="10" fill="#00ff00"/>
<rect x="382" y="399" width="3" height="10" fill="#00ff00"/>
<rect x="383" y="400" width="1" height="8" fill="#ffffff"/>
<rect x="386" y="399" width="1" height="6" fill="#ff0000"/>
<rect x="385" y="399" width="3" height="4" fill="#ff0000"/>
<rect x="389" y="400" width="1" height="9" fill="#ff0000"/>
<rect x="388" y="401" width="3" height="3" fill="#ff0000"/>
<rect x="392" y="395" width="1" height="10" fill="#ff0000"/>
<rect x="391" y="404" width="3" height="1" fill="#ff0000"/>
<rect x="395" y="400" width="1" height="7" fill="#00ff00"/>
<rect x="394" y="400" width="3" height="7" fill="#00ff00"/>
<rect x="395" y="401" width="1" height="5" fill="#ffffff"/>
<rect x="398" y="397" width="1" height="8" fill="#00ff00"/>
<rect x="397" y="400" width="3" height="1" fill="#00ff00"/>
<rect x="401" y="396" width="1" height="8" fill="#ff0000"/>
<rect x="400" y="399" width="3" height="5" fill="#ff0000"/>
<rect x="404" y="389" width="1" height="12" fill="#00ff00"/>
<rect x="403" y="393" width="3" height="8" fill="#00ff00"/>
<rect x="404" y="394" width="1" height="6" fill="#ffffff"/>
<rect x="407" y="392" width="1" height="6" fill="#00ff00"/>
<rect x="406" y="392" width="3" height="1" fill="#00ff00"/>
<rect x="410" y="386" width="1" height="10" fill="#00ff00"/>
<rect x="409" y="390" width="3" height="2" fill="#00ff00"/>
<rect x="413" y="372" width="1" height="21" fill="#00ff00"/>
<rect x="412" y="382" width="3" height="11" fill="#00ff00"/>
<rect x="413" y="383" width="1" height="9" fill="#ffffff"/>
<rect x="416" y="377" width="1" height="5" fill="#00ff00"/>
<rect x="415" y="377" width="3" height="5" fill="#00ff00"/>
<rect x="419" y="356" width="1" height="24" fill="#00ff00"/>
<rect x="418" y="356" width="3" height="24" fill="#00ff00"/>
<rect x="419" y="357" width="1" height="22" fill="#ffffff"/>
<rect x="422" y="342" width="1" height="39" fill="#ff0000"/>
<rect x="421" y="345" width="3" height="36" fill="#ff0000"/>
<rect x="425" y="356" width="1" height="17" fill="#00ff00"/>
<rect x="424" y="356" width="3" height="7" fill="#00ff00"/>
<rect x="425" y="357" width="1" height="5" fill="#ffffff"/>
<rect x="428" y="328" width="1" height="15" fill="#00ff00"/>
<rect x="427" y="328" width="3" height="2" fill="#00ff00"/>
<rect x="431" y="317" width="1" height="15" fill="#00ff00"/>
<rect x="430" y="320" width="3" height="3" fill="#00ff00"/>
<rect x="434" y="293" width="1" height="31" fill="#00ff00"/>
<rect x="433" y="293" width="3" height="31" fill="#00ff00"/>
<rect x="434" y="294" width="1" height="29" fill="#ffffff"/>
<rect x="437" y="265" width="1" height="56" fill="#ff0000"/>
<rect x="436" y="268" width="3" height="32" fill="#ff0000"/>
<rect x="440" y="280" width="1" height="19" fill="#00ff00"/>
<rect x="439" y="289" width="3" height="5" fill="#00ff00"/>
<rect x="440" y="290" width="1" height="3" fill="#ffffff"/>
<rect x="443" y="273" width="1" height="23" fill="#00ff00"/>
<rect x="442" y="283" width="3" height="4" fill="#00ff00"/>
<rect x="447" y="274" width="1" height="22" fill="#ff0000"/>
<rect x="446" y="283" width="3" height="10" fill="#ff0000"/>
<rect x="450" y="273" width="1" height="21" fill="#00ff00"/>
<rect x="449" y="280" width="3" height="9" fill="#00ff00"/>
<rect x="450" y="281" width="1" height="7" fill="#ffffff"/>
<rect x="453" y="275" width="1" height="14" fill="#ff0000"/>
<rect x="452" y="275" width="3" height="10" fill="#ff0000"/>
<rect x="456" y="268" width="1" height="17" fill="#00ff00"/>
<rect x="455" y="274" width="3" height="9" fill="#00ff00"/>
<rect x="456" y="275" width="1" height="7" fill="#ffffff"/>
<rect x="459" y="242" width="1" height="29" fill="#00ff00"/>
<rect x="458" y="249" width="3" height="22" fill="#00ff00"/>
<rect x="459" y="250" width="1" height="20" fill="#ffffff"/>
<rect x="462" y="220" width="1" height="34" fill="#00ff00"/>
<rect x="461" y="236" width="3" height="1" fill="#00ff00"/>
<rect x="465" y="208" width="1" height="19" fill="#00ff00"/>
<rect x="464" y="213" width="3" height="13" fill="#00ff00"/>
<rect x="468" y="218" width="1" height="21" fill="#ff0000"/>
<rect x="467" y="234" width="3" height="2" fill="#ff0000"/>
<rect x="471" y="235" width="1" height="29" fill="#ff0000"/>
<rect x="470" y="238" width="3" height="4" fill="#ff0000"/>
<rect x="474" y="225" width="1" height="17" fill="#00ff00"/>
<rect x="473" y="235" width="3" height="4" fill="#00ff00"/>
<rect x="474" y="236" width="1" height="2" fill="#ffffff"/>
<rect x="477" y="235" width="1" height="36" fill="#ff0000"/>
<rect x="476" y="241" width="3" height="30" fill="#ff0000"/>
<rect x="480" y="263" width="1" height="37" fill="#ff0000"/>
<rect x="479" y="265" width="3" height="33" fill="#ff0000"/>
<rect x="483" y="266" width="1" height="35" fill="#00ff00"/>
<rect x="482" y="266" width="3" height="35" fill="#00ff00"/>
<rect x="483" y="267" width="1" height="33" fill="#ffffff"/>
<rect x="486" y="247" width="1" height="16" fill="#00ff00"/>
<rect x="485" y="255" width="3" height="4" fill="#00ff00"/>
<rect x="489" y="234" width="1" height="31" fill="#00ff00"/>
<rect x="488" y="238" width="3" height="21" fill="#00ff00"/>
<rect x="489" y="239" width="1" height="19" fill="#ffffff"/>
<rect x="492" y="228" width="1" height="21" fill="#00ff00"/>
<rect x="491" y="228" width="3" height="4" fill="#00ff00"/>
<rect x="492" y="229" width="1" height="2" fill="#ffffff"/>
<rect x="495" y="218" width="1" height="17" fill="#00ff00"/>
<rect x="494" y="220" width="3" height="4" fill="#00ff00"/>
<rect x="495" y="221" width="1" height="2" fill="#ffffff"/>
<rect x="498" y="215" width="1" height="12" fill="#ff0000"/>
<rect x="497" y="218" width="3" height="7" fill="#ff0000"/>
<rect x="501" y="218" width="1" height="35" fill="#ff0000"/>
<rect x="500" y="220" width="3" height="30" fill="#ff0000"/>
<rect x="504" y="252" width="1" height="20" fill="#ff0000"/>
<rect x="503" y="252" width="3" height="20" fill="#ff0000"/>
<rect x="507" y="258" width="1" height="15" fill="#00ff00"/>
<rect x="506" y="261" width="3" height="9" fill="#00ff00"/>
<rect x="507" y="262" width="1" height="7" fill="#ffffff"/>
<rect x="510" y="256" width="1" height="13" fill="#00ff00"/>
<rect x="509" y="256" width="3" height="3" fill="#00ff00"/>
<rect x="510" y="257" width="1" height="1" fill="#ffffff"/>
<rect x="513" y="255" width="1" height="19" fill="#00ff00"/>
<rect x="512" y="255" width="3" height="7" fill="#00ff00"/>
<rect x="513" y="256" width="1" height="5" fill="#ffffff"/>
<rect x="516" y="254" width="1" height="11" fill="#ff0000"/>
<rect x="515" y="254" width="3" height="9" fill="#ff0000"/>
<rect x="519" y="251" width="1" height="18" fill="#00ff00"/>
<rect x="518" y="251" width="3" height="12" fill="#00ff00"/>
<rect x="519" y="252" width="1" height="10" fill="#ffffff"/>
<rect x="522" y="242" width="1" height="14" fill="#00ff00"/>
<rect x="521" y="244" width="3" height="12" fill="#00ff00"/>
<rect x="522" y="245" width="1" height="10" fill="#ffffff"/>
<rect x="525" y="245" width="1" height="9" fill="#ff0000"/>
<rect x="524" y="248" width="3" height="3" fill="#ff0000"/>
<rect x="529" y="244" width="1" height="16" fill="#ff0000"/>
<rect x="528" y="249" width="3" height="3" fill="#ff0000"/>
<rect x="532" y="255" width="1" height="7" fill="#ff0000"/>
<rect x="531" y="255" width="3" height="2" fill="#ff0000"/>
<rect x="535" y="256" width="1" height="17" fill="#ff0000"/>
<rect x="534" y="256" width="3" height="11" fill="#ff0000"/>
<rect x="538" y="262" width="1" height="17" fill="#ff0000"/>
<rect x="537" y="269" width="3" height="10" fill="#ff0000"/>
<rect x="541" y="263" width="1" height="33" fill="#00ff00"/>
<rect x="540" y="268" width="3" height="8" fill="#00ff00"/>
<rect x="541" y="269" width="1" height="6" fill="#ffffff"/>
<rect x="544" y="265" width="1" height="15" fill="#00ff00"/>
<rect x="543" y="267" width="3" height="2" fill="#00ff00"/>
<rect x="547" y="268" width="1" height="13" fill="#ff0000"/>
<rect x="546" y="269" width="3" height="4" fill="#ff0000"/>
<rect x="550" y="263" width="1" height="20" fill="#ff0000"/>
<rect x="549" y="276" width="3" height="7" fill="#ff0000"/>
<rect x="553" y="278" width="1" height="17" fill="#00ff00"/>
<rect x="552" y="281" width="3" height="3" fill="#00ff00"/>
<rect x="556" y="275" width="1" height="11" fill="#00ff00"/>
<rect x="555" y="278" width="3" height="3" fill="#00ff00"/>
<rect x="559" y="273" width="1" height="14" fill="#00ff00"/>
<rect x="558" y="276" width="3" height="3" fill="#00ff00"/>
<rect x="562" y="280" width="1" height="7" fill="#ff0000"/>
<rect x="561" y="280" width="3" height="7" fill="#ff0000"/>
<rect x="565" y="263" width="1" height="24" fill="#00ff00"/>
<rect x="564" y="264" width="3" height="23" fill="#00ff00"/>
<rect x="565" y="265" width="1" height="21" fill="#ffffff"/>
<rect x="568" y="266" width="1" height="11" fill="#ff0000"/>
<rect x="567" y="266" width="3" height="5" fill="#ff0000"/>
<rect x="571" y="262" width="1" height="14" fill="#00ff00"/>
<rect x="570" y="264" width="3" height="9" fill="#00ff00"/>
<rect x="571" y="265" width="1" height="7" fill="#ffffff"/>
<rect x="574" y="245" width="1" height="24" fill="#00ff00"/>
<rect x="573" y="251" width="3" height="18" fill="#00ff00"/>
<rect x="574" y="252" width="1" height="16" fill="#ffffff"/>
<polyline points="-2.00,534.00 0.00,534.00 20.00,534.50 36.00,536.00 43.00,536.00 52.00,535.50 65.00,535.10 75.00,533.20 79.30,532.30 82.30,531.40 86.00,530.20 89.70,528.90 93.40,527.70 97.10,526.60 100.90,525.30 104.60,524.10 108.50,522.90 112.00,522.00 115.40,521.20 118.90,520.60 123.10,519.80 125.90,519.20 129.40,518.70 132.90,518.30 136.30,517.60 139.80,516.50 143.30,515.10 146.80,512.70 150.00,510.60 153.20,507.20 158.80,502.70 164.40,498.20 170.00,492.50 175.00,486.80 181.00,481.40 187.00,476.60 193.00,473.60 199.00,470.00 205.00,467.80 211.00,467.00 217.00,464.00 223.00,462.00 229.00,461.40 235.00,461.00 243.00,460.80 246.80,459.30 249.90,456.80 253.00,454.80 259.00,451.30 263.80,448.90 268.70,445.90 273.50,444.10 280.70,442.30 287.90,440.50 295.00,438.40 299.50,435.50 306.30,433.60 313.00,431.80 318.60,430.30 323.20,429.80 351.30,429.60 355.80,430.00 360.30,430.90 369.40,431.00 375.40,430.20 380.00,428.00 385.00,426.00 390.00,424.00 395.00,421.30 400.00,419.00 405.00,415.00 410.00,411.30 415.00,408.00 419.00,404.00 423.40,399.80 427.00,393.10 431.50,385.60 436.50,376.10 440.50,369.10 443.10,362.90 448.10,357.10 453.10,347.20 458.00,336.40 462.10,324.90 466.30,313.30 469.00,306.90 473.10,295.70 475.00,291.20 478.70,286.60 482.40,281.50 486.10,275.90 489.90,269.90 493.60,263.80 498.20,258.70 502.90,255.50 505.50,253.30 510.70,250.10 515.00,249.20 519.10,249.40 523.30,250.80 527.50,252.30 531.70,253.20 536.50,253.90 540.50,253.90 546.80,252.60 551.00,256.30 555.20,259.40 560.50,265.70 564.70,266.20 569.90,266.20 574.10,266.80" fill="none" stroke="#0000ff" stroke-width="2" stroke-linejoin="round" stroke-linecap="round"/>
<polyline points="-2.00,533.00 0.00,533.00 21.00,533.00 22.00,534.00 73.40,534.00 73.70,533.00 85.30,533.00 85.60,532.00 97.10,532.00 97.50,531.00 106.00,530.60 112.00,529.70 118.20,529.00 125.90,528.00 134.20,527.60 139.80,526.20 144.00,524.80 150.00,522.80 153.20,522.00 158.80,519.50 164.40,516.20 170.00,513.40 175.70,510.50 180.00,507.80 185.00,505.50 190.80,503.60 196.00,501.60 201.70,499.70 207.00,497.60 212.50,495.30 217.00,492.60 221.20,490.00 228.80,486.10 234.00,483.30 239.60,480.40 245.00,478.30 250.00,476.50 253.00,475.00 259.00,471.10 265.00,468.70 271.00,465.10 277.10,461.50 283.10,458.50 289.10,455.50 295.10,453.10 301.80,451.00 308.50,449.50 317.50,447.30 326.50,445.20 335.50,443.10 344.50,440.70 353.60,438.00 361.00,436.50 367.00,435.40 376.60,434.20 380.00,433.00 385.00,432.00 390.00,431.00 395.00,429.00 400.00,426.50 405.00,425.00 410.00,423.00 415.00,421.00 419.00,419.00 425.20,417.20 428.90,415.30 433.60,411.10 438.20,407.00 442.90,402.80 445.70,400.50 449.80,396.30 455.00,391.00 460.00,385.50 464.10,379.00 468.30,373.90 472.40,368.90 476.50,365.20 480.70,361.50 484.80,356.10 488.90,351.60 492.10,347.50 496.30,340.50 500.40,335.50 504.50,331.00 508.70,326.40 512.80,322.30 516.90,316.90 520.20,312.60 523.80,308.80 527.40,305.50 531.00,302.30 534.50,299.30 540.50,294.00 546.80,288.20 553.10,283.00 559.40,277.60 564.70,274.00 569.90,270.60 574.60,267.80" fill="none" stroke="#000000" stroke-width="2" stroke-linejoin="round" stroke-linecap="round"/>
<polyline points="-2.00,529.50 0.00,529.50 13.00,529.50 16.00,531.00 21.00,532.50 44.00,533.00 51.00,533.00 53.00,531.50 60.00,529.50 63.70,528.40 67.40,527.30 71.10,526.20 74.90,524.70 78.60,522.50 82.30,520.20 86.00,518.40 89.70,516.90 93.40,515.40 97.10,514.30 100.90,513.20 104.60,512.30 108.10,511.40 123.80,511.40 124.50,512.20 132.90,512.20 133.60,513.20 135.60,513.70 136.70,514.40 137.70,513.00 139.10,510.60 140.70,507.00 142.80,501.60 144.80,493.50 146.80,486.80 148.80,482.00 151.50,478.00 154.20,473.90 156.90,469.90 159.60,464.50 162.40,459.10 165.10,453.00 167.80,446.20 169.80,441.50 172.50,438.10 176.00,434.70 178.00,433.00 180.00,432.30 186.00,432.80 190.50,435.80 195.00,440.30 198.00,444.00 202.50,445.80 208.50,446.30 211.50,444.80 216.00,439.50 220.50,435.00 225.00,433.50 231.00,432.80 237.00,431.30 241.00,432.60 245.80,430.50 250.60,431.40 253.00,433.60 259.00,433.60 261.40,429.60 266.30,429.60 269.90,430.20 272.30,428.80 278.30,426.60 283.10,424.80 286.70,421.80 291.50,419.40 300.00,419.50 308.50,419.20 317.50,422.00 344.40,422.10 345.30,423.50 360.00,424.00 362.00,425.00 365.00,425.40 371.20,425.40 373.00,421.40 375.40,415.00 380.80,409.30 386.30,403.30 391.70,397.30 397.10,391.50 401.70,389.30 404.40,385.80 407.90,384.30 413.30,379.50 418.00,370.60 422.50,363.10 425.50,357.10 428.50,345.00 431.50,333.00 434.50,319.50 436.80,307.90 438.90,298.70 441.40,289.60 444.00,277.30 447.60,268.00 451.50,257.00 455.70,247.50 458.90,239.10 461.50,228.60 463.10,221.30 465.20,211.80 468.30,205.50 471.50,201.30 474.40,197.10 477.20,199.70 479.70,202.40 481.30,205.50 483.40,210.80 486.60,216.50 491.80,213.90 496.00,207.60 499.20,206.30 502.30,206.80 506.50,208.70 512.80,210.80 520.00,211.60 522.30,212.80 525.70,215.60 530.30,216.80 533.70,218.50 538.30,219.40 541.80,222.30 548.60,222.50 552.10,224.80 554.40,228.20 556.70,233.90 559.50,241.40 561.20,242.20 569.30,242.20 573.80,243.30" fill="none" stroke="#0000ff" stroke-width="1"/>
<polyline points="-2.00,538.50 0.00,538.50 14.00,538.50 15.00,537.50 21.00,537.50 22.00,538.50 51.00,538.50 52.00,540.00 66.00,540.00 66.30,541.40 72.00,541.40 72.30,542.50 86.70,542.50 87.10,541.40 89.70,541.00 93.40,540.10 97.10,539.20 100.90,538.10 104.60,536.60 108.50,534.20 112.00,532.90 115.40,531.80 118.90,530.10 122.40,528.70 126.60,526.60 130.10,525.20 132.90,524.50 135.60,522.40 137.40,521.40 139.10,523.50 141.20,526.90 143.30,530.10 146.80,534.20 150.00,537.70 152.00,538.10 155.40,539.30 158.80,541.50 162.20,543.40 170.00,543.40 173.40,540.90 177.90,536.40 182.40,529.70 184.70,524.00 188.30,520.00 192.00,510.10 196.50,499.60 199.50,492.10 202.50,489.80 207.00,488.80 213.00,488.30 219.00,489.80 225.00,490.60 231.00,490.30 240.00,490.00 244.00,488.00 248.20,485.00 251.80,477.10 255.40,472.30 261.40,469.90 265.00,466.30 269.90,459.70 273.50,459.70 277.10,460.50 283.10,460.90 290.30,460.30 295.10,456.70 301.80,452.30 306.30,448.60 310.80,444.50 315.30,441.40 319.20,437.70 326.50,436.90 332.20,435.30 342.30,435.30 351.30,435.50 355.80,436.10 360.00,437.00 366.00,437.50 370.60,437.50 374.20,441.20 379.00,446.00 385.00,449.60 391.00,450.20 397.00,449.60 403.00,447.80 409.00,445.40 415.00,443.20 419.60,442.20 422.40,436.70 425.20,435.50 428.00,437.10 431.20,436.40 433.10,441.80 435.40,445.50 439.10,447.80 442.90,449.40 446.60,446.90 450.30,444.60 453.10,439.50 455.90,433.90 460.50,427.40 464.20,421.80 467.00,415.80 469.60,404.20 474.50,386.00 478.70,369.50 482.00,353.00 484.50,338.10 487.80,326.50 491.10,316.60 493.60,313.30 496.40,310.70 500.10,305.10 502.90,302.40 506.60,297.70 511.20,292.10 515.90,287.50 530.70,287.50 535.00,289.80 537.40,290.40 541.60,283.60 546.80,284.60 551.00,288.80 554.20,290.40 559.40,287.20 562.60,290.40 573.60,290.40" fill="none" stroke="#0000ff" stroke-width="1"/>
<rect x="440" y="204" width="151" height="25" fill="none" stroke="#ff5500" stroke-width="2"/>
<rect x="0" y="636" width="1" height="3" fill="#008c00"/>
<rect x="2" y="636" width="2" height="3" fill="#008c00"/>
<rect x="5" y="636" width="2" height="3" fill="#008c00"/>
<rect x="8" y="636" width="2" height="3" fill="#008c00"/>
<rect x="11" y="637" width="2" height="2" fill="#008c00"/>
<rect x="14" y="636" width="2" height="3" fill="#008c00"/>
<rect x="17" y="636" width="2" height="3" fill="#008c00"/>
<rect x="20" y="636" width="2" height="3" fill="#008c00"/>
<rect x="23" y="636" width="2" height="3" fill="#008c00"/>
<rect x="26" y="637" width="2" height="2" fill="#008c00"/>
<rect x="29" y="636" width="2" height="3" fill="#008c00"/>
<rect x="32" y="637" width="2" height="2" fill="#008c00"/>
<rect x="35" y="636" width="2" height="3" fill="#008c00"/>
<rect x="39" y="636" width="2" height="3" fill="#008c00"/>
<rect x="42" y="636" width="2" height="3" fill="#008c00"/>
<rect x="45" y="636" width="2" height="3" fill="#008c00"/>
<rect x="48" y="636" width="2" height="3" fill="#008c00"/>
<rect x="51" y="632" width="2" height="7" fill="#008c00"/>
<rect x="54" y="634" width="2" height="5" fill="#008c00"/>
<rect x="57" y="636" width="2" height="3" fill="#008c00"/>
<rect x="60" y="636" width="2" height="3" fill="#008c00"/>
<rect x="63" y="636" width="2" height="3" fill="#008c00"/>
<rect x="66" y="636" width="2" height="3" fill="#008c00"/>
<rect x="69" y="629" width="2" height="10" fill="#008c00"/>
<rect x="72" y="636" width="2" height="3" fill="#008c00"/>
<rect x="75" y="635" width="2" height="4" fill="#008c00"/>
<rect x="78" y="632" width="2" height="7" fill="#008c00"/>
<rect x="81" y="629" width="2" height="10" fill="#008c00"/>
<rect x="84" y="635" width="2" height="4" fill="#008c00"/>
<rect x="87" y="635" width="2" height="4" fill="#008c00"/>
<rect x="90" y="634" width="2" height="5" fill="#008c00"/>
<rect x="93" y="631" width="2" height="8" fill="#008c00"/>
<rect x="96" y="631" width="2" height="8" fill="#008c00"/>
<rect x="99" y="629" width="2" height="10" fill="#008c00"/>
<rect x="102" y="629" width="2" height="10" fill="#008c00"/>
<rect x="105" y="633" width="2" height="6" fill="#008c00"/>
<rect x="108" y="633" width="2" height="6" fill="#008c00"/>
<rect x="111" y="633" width="2" height="6" fill="#008c00"/>
<rect x="114" y="633" width="2" height="6" fill="#008c00"/>
<rect x="117" y="633" width="2" height="6" fill="#008c00"/>
<rect x="121" y="633" width="2" height="6" fill="#008c00"/>
<rect x="124" y="633" width="2" height="6" fill="#008c00"/>
<rect x="127" y="633" width="2" height="6" fill="#008c00"/>
<rect x="130" y="633" width="2" height="6" fill="#008c00"/>
<rect x="133" y="634" width="2" height="5" fill="#008c00"/>
<rect x="136" y="633" width="2" height="6" fill="#008c00"/>
<rect x="139" y="597" width="2" height="42" fill="#008c00"/>
<rect x="142" y="609" width="2" height="30" fill="#008c00"/>
<rect x="145" y="616" width="2" height="23" fill="#008c00"/>
<rect x="148" y="617" width="2" height="22" fill="#008c00"/>
<rect x="151" y="613" width="2" height="26" fill="#008c00"/>
<rect x="154" y="615" width="2" height="24" fill="#008c00"/>
<rect x="157" y="612" width="2" height="27" fill="#008c00"/>
<rect x="160" y="614" width="2" height="25" fill="#008c00"/>
<rect x="163" y="625" width="2" height="14" fill="#008c00"/>
<rect x="166" y="618" width="2" height="21" fill="#008c00"/>
<rect x="169" y="628" width="2" height="11" fill="#008c00"/>
<rect x="172" y="620" width="2" height="19" fill="#008c00"/>
<rect x="175" y="627" width="2" height="12" fill="#008c00"/>
<rect x="178" y="622" width="2" height="17" fill="#008c00"/>
<rect x="181" y="615" width="2" height="24" fill="#008c00"/>
<rect x="184" y="595" width="2" height="44" fill="#008c00"/>
<rect x="187" y="617" width="2" height="22" fill="#008c00"/>
<rect x="190" y="618" width="2" height="21" fill="#008c00"/>
<rect x="193" y="632" width="2" height="7" fill="#008c00"/>
<rect x="196" y="606" width="2" height="33" fill="#008c00"/>
<rect x="199" y="623" width="2" height="16" fill="#008c00"/>
<rect x="203" y="620" width="2" height="19" fill="#008c00"/>
<rect x="206" y="624" width="2" height="15" fill="#008c00"/>
<rect x="209" y="624" width="2" height="15" fill="#008c00"/>
<rect x="212" y="589" width="2" height="50" fill="#008c00"/>
<rect x="215" y="612" width="2" height="27" fill="#008c00"/>
<rect x="218" y="568" width="2" height="71" fill="#008c00"/>
<rect x="221" y="606" width="2" height="33" fill="#008c00"/>
<rect x="224" y="611" width="2" height="28" fill="#008c00"/>
<rect x="227" y="616" width="2" height="23" fill="#008c00"/>
<rect x="230" y="621" width="2" height="18" fill="#008c00"/>
<rect x="233" y="621" width="2" height="18" fill="#008c00"/>
<rect x="236" y="620" width="2" height="19" fill="#008c00"/>
<rect x="239" y="621" width="2" height="18" fill="#008c00"/>
<rect x="242" y="621" width="2" height="18" fill="#008c00"/>
<rect x="245" y="610" width="2" height="29" fill="#008c00"/>
<rect x="248" y="616" width="2" height="23" fill="#008c00"/>
<rect x="251" y="612" width="2" height="27" fill="#008c00"/>
<rect x="254" y="612" width="2" height="27" fill="#008c00"/>
<rect x="257" y="622" width="2" height="17" fill="#008c00"/>
<rect x="260" y="586" width="2" height="53" fill="#008c00"/>
<rect x="263" y="623" width="2" height="16" fill="#008c00"/>
<rect x="266" y="619" width="2" height="20" fill="#008c00"/>
<rect x="269" y="610" width="2" height="29" fill="#008c00"/>
<rect x="272" y="614" width="2" height="25" fill="#008c00"/>
<rect x="275" y="614" width="2" height="25" fill="#008c00"/>
<rect x="278" y="624" width="2" height="15" fill="#008c00"/>
<rect x="281" y="609" width="2" height="30" fill="#008c00"/>
<rect x="285" y="605" width="2" height="34" fill="#008c00"/>
<rect x="288" y="622" width="2" height="17" fill="#008c00"/>
<rect x="291" y="615" width="2" height="24" fill="#008c00"/>
<rect x="294" y="611" width="2" height="28" fill="#008c00"/>
<rect x="297" y="621" width="2" height="18" fill="#008c00"/>
<rect x="300" y="608" width="2" height="31" fill="#008c00"/>
<rect x="303" y="621" width="2" height="18" fill="#008c00"/>
<rect x="306" y="628" width="2" height="11" fill="#008c00"/>
<rect x="309" y="625" width="2" height="14" fill="#008c00"/>
<rect x="312" y="622" width="2" height="17" fill="#008c00"/>
<rect x="315" y="621" width="2" height="18" fill="#008c00"/>
<rect x="318" y="623" width="2" height="16" fill="#008c00"/>
<rect x="321" y="602" width="2" height="37" fill="#008c00"/>
<rect x="324" y="617" width="2" height="22" fill="#008c00"/>
<rect x="327" y="627" width="2" height="12" fill="#008c00"/>
<rect x="330" y="626" width="2" height="13" fill="#008c00"/>
<rect x="333" y="623" width="2" height="16" fill="#008c00"/>
<rect x="336" y="622" width="2" height="17" fill="#008c00"/>
<rect x="339" y="618" width="2" height="21" fill="#008c00"/>
<rect x="342" y="625" width="2" height="14" fill="#008c00"/>
<rect x="345" y="626" width="2" height="13" fill="#008c00"/>
<rect x="348" y="618" width="2" height="21" fill="#008c00"/>
<rect x="351" y="625" width="2" height="14" fill="#008c00"/>
<rect x="354" y="610" width="2" height="29" fill="#008c00"/>
<rect x="357" y="628" width="2" height="11" fill="#008c00"/>
<rect x="360" y="623" width="2" height="16" fill="#008c00"/>
<rect x="364" y="626" width="2" height="13" fill="#008c00"/>
<rect x="367" y="623" width="2" height="16" fill="#008c00"/>
<rect x="370" y="629" width="2" height="10" fill="#008c00"/>
<rect x="373" y="560" width="2" height="79" fill="#008c00"/>
<rect x="376" y="620" width="2" height="19" fill="#008c00"/>
<rect x="379" y="603" width="2" height="36" fill="#008c00"/>
<rect x="382" y="614" width="2" height="25" fill="#008c00"/>
<rect x="385" y="619" width="2" height="20" fill="#008c00"/>
<rect x="388" y="624" width="2" height="15" fill="#008c00"/>
<rect x="391" y="614" width="2" height="25" fill="#008c00"/>
<rect x="394" y="622" width="2" height="17" fill="#008c00"/>
<rect x="397" y="618" width="2" height="21" fill="#008c00"/>
<rect x="400" y="614" width="2" height="25" fill="#008c00"/>
<rect x="403" y="606" width="2" height="33" fill="#008c00"/>
<rect x="406" y="618" width="2" height="21" fill="#008c00"/>
<rect x="409" y="613" width="2" height="26" fill="#008c00"/>
<rect x="412" y="609" width="2" height="30" fill="#008c00"/>
<rect x="415" y="620" width="2" height="19" fill="#008c00"/>
<rect x="418" y="595" width="2" height="44" fill="#008c00"/>
<rect x="421" y="590" width="2" height="49" fill="#008c00"/>
<rect x="424" y="594" width="2" height="45" fill="#008c00"/>
<rect x="427" y="581" width="2" height="58" fill="#008c00"/>
<rect x="430" y="601" width="2" height="38" fill="#008c00"/>
<rect x="433" y="610" width="2" height="29" fill="#008c00"/>
<rect x="436" y="583" width="2" height="56" fill="#008c00"/>
<rect x="439" y="607" width="2" height="32" fill="#008c00"/>
<rect x="442" y="607" width="2" height="32" fill="#008c00"/>
<rect x="446" y="609" width="2" height="30" fill="#008c00"/>
<rect x="449" y="602" width="2" height="37" fill="#008c00"/>
<rect x="452" y="617" width="2" height="22" fill="#008c00"/>
<rect x="455" y="602" width="2" height="37" fill="#008c00"/>
<rect x="458" y="601" width="2" height="38" fill="#008c00"/>
<rect x="461" y="601" width="2" height="38" fill="#008c00"/>
<rect x="464" y="606" width="2" height="33" fill="#008c00"/>
<rect x="467" y="596" width="2" height="43" fill="#008c00"/>
<rect x="470" y="587" width="2" height="52" fill="#008c00"/>
<rect x="473" y="611" width="2" height="28" fill="#008c00"/>
<rect x="476" y="586" width="2" height="53" fill="#008c00"/>
<rect x="479" y="603" width="2" height="36" fill="#008c00"/>
<rect x="482" y="611" width="2" height="28" fill="#008c00"/>
<rect x="485" y="606" width="2" height="33" fill="#008c00"/>
<rect x="488" y="590" width="2" height="49" fill="#008c00"/>
<rect x="491" y="599" width="2" height="40" fill="#008c00"/>
<rect x="494" y="608" width="2" height="31" fill="#008c00"/>
<rect x="497" y="610" width="2" height="29" fill="#008c00"/>
<rect x="500" y="597" width="2" height="42" fill="#008c00"/>
<rect x="503" y="599" width="2" height="40" fill="#008c00"/>
<rect x="506" y="616" width="2" height="23" fill="#008c00"/>
<rect x="509" y="622" width="2" height="17" fill="#008c00"/>
<rect x="512" y="610" width="2" height="29" fill="#008c00"/>
<rect x="515" y="622" width="2" height="17" fill="#008c00"/>
<rect x="518" y="609" width="2" height="30" fill="#008c00"/>
<rect x="521" y="611" width="2" height="28" fill="#008c00"/>
<rect x="524" y="618" width="2" height="21" fill="#008c00"/>
<rect x="528" y="620" width="2" height="19" fill="#008c00"/>
<rect x="531" y="612" width="2" height="27" fill="#008c00"/>
<rect x="534" y="614" width="2" height="25" fill="#008c00"/>
<rect x="537" y="594" width="2" height="45" fill="#008c00"/>
<rect x="540" y="578" width="2" height="61" fill="#008c00"/>
<rect x="543" y="619" width="2" height="20" fill="#008c00"/>
<rect x="546" y="617" width="2" height="22" fill="#008c00"/>
<rect x="549" y="614" width="2" height="25" fill="#008c00"/>
<rect x="552" y="606" width="2" height="33" fill="#008c00"/>
<rect x="555" y="623" width="2" height="16" fill="#008c00"/>
<rect x="558" y="618" width="2" height="21" fill="#008c00"/>
<rect x="561" y="618" width="2" height="21" fill="#008c00"/>
<rect x="564" y="602" width="2" height="37" fill="#008c00"/>
<rect x="567" y="612" width="2" height="27" fill="#008c00"/>
<rect x="570" y="609" width="2" height="30" fill="#008c00"/>
<rect x="573" y="604" width="2" height="35" fill="#008c00"/>
<path d="M-2.00 633.50L0.00 633.50L0.00 635.50L-2.00 635.50ZM0.00 633.50L30.00 633.50L30.00 635.50L0.00 635.50ZM30.00 633.50L31.00 634.50L31.00 636.50L30.00 635.50ZM31.00 634.50L55.00 634.50L55.00 636.50L31.00 636.50ZM55.00 634.50L56.00 633.50L56.00 635.50L55.00 636.50ZM56.00 633.50L82.00 633.50L82.00 635.50L56.00 635.50ZM82.00 633.50L83.00 632.50L83.00 634.50L82.00 635.50ZM83.00 632.50L97.00 632.20L97.00 634.20L83.00 634.50ZM97.00 632.20L98.00 631.70L98.00 633.70L97.00 634.20ZM98.00 631.70L109.10 631.70L109.10 633.70L98.00 633.70ZM108.60 631.80L110.60 631.80L110.10 632.70L108.10 632.70ZM109.60 630.80L137.30 630.80L137.30 632.80L109.60 632.80ZM137.30 630.80L139.40 629.50L139.40 631.50L137.30 632.80ZM139.40 629.50L142.70 628.40L142.70 630.40L139.40 631.50ZM142.70 628.40L145.90 627.30L145.90 629.30L142.70 630.40ZM145.90 627.30L149.20 626.50L149.20 628.50L145.90 629.30ZM149.20 626.50L152.40 625.20L152.40 627.20L149.20 628.50ZM152.40 625.20L155.70 624.60L155.70 626.60L152.40 627.20ZM155.70 624.60L158.90 624.10L158.90 626.10L155.70 626.60ZM158.90 624.10L162.20 622.80L162.20 624.80L158.90 626.10ZM162.20 622.80L167.20 621.40L167.20 623.40L162.20 624.80ZM167.20 621.40L173.20 620.80L173.20 622.80L167.20 623.40ZM173.20 620.80L178.60 620.20L178.60 622.20L173.20 622.80ZM178.60 620.20L181.60 619.00L181.60 621.00L178.60 622.20ZM181.60 619.00L186.40 617.80L186.40 619.80L181.60 621.00ZM186.40 617.80L191.20 615.70L191.20 617.70L186.40 619.80ZM191.20 615.70L199.60 615.70L199.60 617.70L191.20 617.70ZM199.60 615.70L201.40 616.90L201.40 618.90L199.60 617.70ZM201.40 616.90L211.60 616.90L211.60 618.90L201.40 618.90ZM211.60 616.90L216.40 615.20L216.40 617.20L211.60 618.90ZM216.40 615.20L220.00 614.00L220.00 616.00L216.40 617.20ZM220.00 614.00L226.00 613.30L226.00 615.30L220.00 616.00ZM226.00 613.30L237.00 613.00L237.00 615.00L226.00 615.30ZM236.60 612.60L238.60 612.60L238.00 614.00L236.00 614.00ZM237.60 611.60L243.00 611.60L243.00 613.60L237.60 613.60ZM243.00 611.60L244.20 612.80L244.20 614.80L243.00 613.60ZM244.20 612.80L259.20 612.80L259.20 614.80L244.20 614.80ZM259.20 612.80L261.60 610.90L261.60 612.90L259.20 614.80ZM261.60 610.90L276.00 610.90L276.00 612.90L261.60 612.90ZM275.00 611.90L277.00 611.90L279.40 614.60L277.40 614.60ZM278.40 613.60L290.00 614.00L290.00 616.00L278.40 615.60ZM290.00 614.00L294.80 613.00L294.80 615.00L290.00 616.00ZM294.80 613.00L303.20 612.80L303.20 614.80L294.80 615.00ZM303.20 612.80L305.60 614.00L305.60 616.00L303.20 614.80ZM305.60 614.00L310.40 614.20L310.40 616.20L305.60 616.00ZM310.40 614.20L320.00 615.70L320.00 617.70L310.40 616.20ZM320.00 615.70L327.20 616.00L327.20 618.00L320.00 617.70ZM327.20 616.00L329.60 616.90L329.60 618.90L327.20 618.00ZM329.60 616.90L334.40 617.80L334.40 619.80L329.60 618.90ZM334.40 617.80L340.40 617.80L340.40 619.80L334.40 619.80ZM340.40 617.80L344.00 618.80L344.00 620.80L340.40 619.80ZM344.00 618.80L348.80 619.30L348.80 621.30L344.00 620.80ZM348.80 619.30L355.00 619.80L355.00 621.80L348.80 621.30ZM355.00 619.80L358.80 620.40L358.80 622.40L355.00 621.80ZM358.80 620.40L372.20 620.40L372.20 622.40L358.80 622.40ZM372.20 620.40L374.80 617.90L374.80 619.90L372.20 622.40ZM374.80 617.90L380.50 616.80L380.50 618.80L374.80 619.90ZM380.50 616.80L392.00 616.60L392.00 618.60L380.50 618.80ZM392.00 616.60L403.50 616.00L403.50 618.00L392.00 618.60ZM403.50 616.00L407.40 614.00L407.40 616.00L403.50 618.00ZM407.40 614.00L417.60 613.40L417.60 615.40L407.40 616.00ZM417.60 613.40L420.10 611.70L420.10 613.70L417.60 615.40ZM420.10 611.70L425.10 609.60L425.10 611.60L420.10 613.70ZM425.10 609.60L428.30 607.00L428.30 609.00L425.10 611.60ZM428.30 607.00L431.50 605.30L431.50 607.30L428.30 609.00ZM430.50 606.30L432.50 606.30L435.00 608.90L433.00 608.90ZM434.00 607.90L437.20 606.40L437.20 608.40L434.00 609.90ZM437.20 606.40L443.00 606.40L443.00 608.40L437.20 608.40ZM443.00 606.40L445.50 605.70L445.50 607.70L443.00 608.40ZM445.50 605.70L450.70 605.10L450.70 607.10L445.50 607.70ZM450.70 605.10L455.80 604.40L455.80 606.40L450.70 607.10ZM455.80 604.40L459.60 603.20L459.60 605.20L455.80 606.40ZM459.60 603.20L464.70 602.50L464.70 604.50L459.60 605.20ZM464.70 602.50L469.80 601.00L469.80 603.00L464.70 604.50ZM469.80 601.00L472.40 599.70L472.40 601.70L469.80 603.00ZM472.40 599.70L477.50 599.30L477.50 601.30L472.40 601.70ZM477.50 599.30L481.30 600.00L481.30 602.00L477.50 601.30ZM481.30 600.00L483.90 601.00L483.90 603.00L481.30 602.00ZM483.90 601.00L493.90 601.00L493.90 603.00L483.90 603.00ZM493.90 601.00L496.50 602.00L496.50 604.00L493.90 603.00ZM496.50 602.00L511.80 602.00L511.80 604.00L496.50 604.00ZM511.80 602.00L515.70 603.60L515.70 605.60L511.80 604.00ZM515.70 603.60L522.00 604.10L522.00 606.10L515.70 605.60ZM522.00 604.10L525.90 605.70L525.90 607.70L522.00 606.10ZM525.90 605.70L529.70 606.40L529.70 608.40L525.90 607.70ZM529.70 606.40L534.80 606.60L534.80 608.60L529.70 608.40ZM534.80 606.60L537.40 607.90L537.40 609.90L534.80 608.60ZM537.40 607.90L541.20 606.10L541.20 608.10L537.40 609.90ZM541.20 606.10L547.20 607.00L547.20 609.00L541.20 608.10ZM547.20 607.00L550.80 608.50L550.80 610.50L547.20 609.00ZM550.80 608.50L553.20 609.70L553.20 611.70L550.80 610.50ZM553.20 609.70L559.20 610.00L559.20 612.00L553.20 611.70ZM558.20 611.00L560.20 611.00L560.80 611.90L558.80 611.90ZM559.80 610.90L570.00 610.90L570.00 612.90L559.80 612.90ZM570.00 610.90L571.80 609.70L571.80 611.70L570.00 612.90ZM571.80 609.70L574.80 609.70L574.80 611.70L571.80 611.70ZM-3.00 633.50L-1.00 633.50L-1.00 635.50L-3.00 635.50ZM-1.00 633.50L1.00 633.50L1.00 635.50L-1.00 635.50ZM29.00 633.50L31.00 633.50L31.00 635.50L29.00 635.50ZM30.00 634.50L32.00 634.50L32.00 636.50L30.00 636.50ZM54.00 634.50L56.00 634.50L56.00 636.50L54.00 636.50ZM55.00 633.50L57.00 633.50L57.00 635.50L55.00 635.50ZM81.00 633.50L83.00 633.50L83.00 635.50L81.00 635.50ZM82.00 632.50L84.00 632.50L84.00 634.50L82.00 634.50ZM96.00 632.20L98.00 632.20L98.00 634.20L96.00 634.20ZM97.00 631.70L99.00 631.70L99.00 633.70L97.00 633.70ZM108.10 631.70L110.10 631.70L110.10 633.70L108.10 633.70ZM108.60 630.80L110.60 630.80L110.60 632.80L108.60 632.80ZM136.30 630.80L138.30 630.80L138.30 632.80L136.30 632.80ZM138.40 629.50L140.40 629.50L140.40 631.50L138.40 631.50ZM141.70 628.40L143.70 628.40L143.70 630.40L141.70 630.40ZM144.90 627.30L146.90 627.30L146.90 629.30L144.90 629.30ZM148.20 626.50L150.20 626.50L150.20 628.50L148.20 628.50ZM151.40 625.20L153.40 625.20L153.40 627.20L151.40 627.20ZM154.70 624.60L156.70 624.60L156.70 626.60L154.70 626.60ZM157.90 624.10L159.90 624.10L159.90 626.10L157.90 626.10ZM161.20 622.80L163.20 622.80L163.20 624.80L161.20 624.80ZM166.20 621.40L168.20 621.40L168.20 623.40L166.20 623.40ZM172.20 620.80L174.20 620.80L174.20 622.80L172.20 622.80ZM177.60 620.20L179.60 620.20L179.60 622.20L177.60 622.20ZM180.60 619.00L182.60 619.00L182.60 621.00L180.60 621.00ZM185.40 617.80L187.40 617.80L187.40 619.80L185.40 619.80ZM190.20 615.70L192.20 615.70L192.20 617.70L190.20 617.70ZM198.60 615.70L200.60 615.70L200.60 617.70L198.60 617.70ZM200.40 616.90L202.40 616.90L202.40 618.90L200.40 618.90ZM210.60 616.90L212.60 616.90L212.60 618.90L210.60 618.90ZM215.40 615.20L217.40 615.20L217.40 617.20L215.40 617.20ZM219.00 614.00L221.00 614.00L221.00 616.00L219.00 616.00ZM225.00 613.30L227.00 613.30L227.00 615.30L225.00 615.30ZM236.00 613.00L238.00 613.00L238.00 615.00L236.00 615.00ZM236.60 611.60L238.60 611.60L238.60 613.60L236.60 613.60ZM242.00 611.60L244.00 611.60L244.00 613.60L242.00 613.60ZM243.20 612.80L245.20 612.80L245.20 614.80L243.20 614.80ZM258.20 612.80L260.20 612.80L260.20 614.80L258.20 614.80ZM260.60 610.90L262.60 610.90L262.60 612.90L260.60 612.90ZM275.00 610.90L277.00 610.90L277.00 612.90L275.00 612.90ZM277.40 613.60L279.40 613.60L279.40 615.60L277.40 615.60ZM289.00 614.00L291.00 614.00L291.00 616.00L289.00 616.00ZM293.80 613.00L295.80 613.00L295.80 615.00L293.80 615.00ZM302.20 612.80L304.20 612.80L304.20 614.80L302.20 614.80ZM304.60 614.00L306.60 614.00L306.60 616.00L304.60 616.00ZM309.40 614.20L311.40 614.20L311.40 616.20L309.40 616.20ZM319.00 615.70L321.00 615.70L321.00 617.70L319.00 617.70ZM326.20 616.00L328.20 616.00L328.20 618.00L326.20 618.00ZM328.60 616.90L330.60 616.90L330.60 618.90L328.60 618.90ZM333.40 617.80L335.40 617.80L335.40 619.80L333.40 619.80ZM339.40 617.80L341.40 617.80L341.40 619.80L339.40 619.80ZM343.00 618.80L345.00 618.80L345.00 620.80L343.00 620.80ZM347.80 619.30L349.80 619.30L349.80 621.30L347.80 621.30ZM354.00 619.80L356.00 619.80L356.00 621.80L354.00 621.80ZM357.80 620.40L359.80 620.40L359.80 622.40L357.80 622.40ZM371.20 620.40L373.20 620.40L373.20 622.40L371.20 622.40ZM373.80 617.90L375.80 617.90L375.80 619.90L373.80 619.90ZM379.50 616.80L381.50 616.80L381.50 618.80L379.50 618.80ZM391.00 616.60L393.00 616.60L393.00 618.60L391.00 618.60ZM402.50 616.00L404.50 616.00L404.50 618.00L402.50 618.00ZM406.40 614.00L408.40 614.00L408.40 616.00L406.40 616.00ZM416.60 613.40L418.60 613.40L418.60 615.40L416.60 615.40ZM419.10 611.70L421.10 611.70L421.10 613.70L419.10 613.70ZM424.10 609.60L426.10 609.60L426.10 611.60L424.10 611.60ZM427.30 607.00L429.30 607.00L429.30 609.00L427.30 609.00ZM430.50 605.30L432.50 605.30L432.50 607.30L430.50 607.30ZM433.00 607.90L435.00 607.90L435.00 609.90L433.00 609.90ZM436.20 606.40L438.20 606.40L438.20 608.40L436.20 608.40ZM442.00 606.40L444.00 606.40L444.00 608.40L442.00 608.40ZM444.50 605.70L446.50 605.70L446.50 607.70L444.50 607.70ZM449.70 605.10L451.70 605.10L451.70 607.10L449.70 607.10ZM454.80 604.40L456.80 604.40L456.80 606.40L454.80 606.40ZM458.60 603.20L460.60 603.20L460.60 605.20L458.60 605.20ZM463.70 602.50L465.70 602.50L465.70 604.50L463.70 604.50ZM468.80 601.00L470.80 601.00L470.80 603.00L468.80 603.00ZM471.40 599.70L473.40 599.70L473.40 601.70L471.40 601.70ZM476.50 599.30L478.50 599.30L478.50 601.30L476.50 601.30ZM480.30 600.00L482.30 600.00L482.30 602.00L480.30 602.00ZM482.90 601.00L484.90 601.00L484.90 603.00L482.90 603.00ZM492.90 601.00L494.90 601.00L494.90 603.00L492.90 603.00ZM495.50 602.00L497.50 602.00L497.50 604.00L495.50 604.00ZM510.80 602.00L512.80 602.00L512.80 604.00L510.80 604.00ZM514.70 603.60L516.70 603.60L516.70 605.60L514.70 605.60ZM521.00 604.10L523.00 604.10L523.00 606.10L521.00 606.10ZM524.90 605.70L526.90 605.70L526.90 607.70L524.90 607.70ZM528.70 606.40L530.70 606.40L530.70 608.40L528.70 608.40ZM533.80 606.60L535.80 606.60L535.80 608.60L533.80 608.60ZM536.40 607.90L538.40 607.90L538.40 609.90L536.40 609.90ZM540.20 606.10L542.20 606.10L542.20 608.10L540.20 608.10ZM546.20 607.00L548.20 607.00L548.20 609.00L546.20 609.00ZM549.80 608.50L551.80 608.50L551.80 610.50L549.80 610.50ZM552.20 609.70L554.20 609.70L554.20 611.70L552.20 611.70ZM558.20 610.00L560.20 610.00L560.20 612.00L558.20 612.00ZM558.80 610.90L560.80 610.90L560.80 612.90L558.80 612.90ZM569.00 610.90L571.00 610.90L571.00 612.90L569.00 612.90ZM570.80 609.70L572.80 609.70L572.80 611.70L570.80 611.70ZM573.80 609.70L575.80 609.70L575.80 611.70L573.80 611.70Z" fill="#ff0000"/>
<rect x="594" y="0" width="1" height="87" fill="#000000"/>
<rect x="594" y="91" width="1" height="94" fill="#000000"/>
<rect x="594" y="189" width="1" height="360" fill="#000000"/>
<rect x="594" y="553" width="1" height="92" fill="#000000"/>
<rect x="645" y="0" width="1" height="87" fill="#f0f0f0"/>
<rect x="645" y="91" width="1" height="94" fill="#f0f0f0"/>
<rect x="645" y="189" width="1" height="360" fill="#f0f0f0"/>
<rect x="645" y="553" width="1" height="94" fill="#f0f0f0"/>
<rect x="595" y="8" width="3" height="1" fill="#000000"/>
<rect x="595" y="18" width="3" height="1" fill="#000000"/>
<rect x="595" y="27" width="3" height="1" fill="#000000"/>
<rect x="595" y="37" width="3" height="1" fill="#000000"/>
<rect x="595" y="46" width="8" height="1" fill="#000000"/>
<rect x="595" y="55" width="3" height="1" fill="#000000"/>
<rect x="595" y="65" width="3" height="1" fill="#000000"/>
<rect x="595" y="74" width="3" height="1" fill="#000000"/>
<rect x="595" y="83" width="3" height="1" fill="#000000"/>
<rect x="595" y="181" width="3" height="1" fill="#000000"/>
<rect x="595" y="176" width="3" height="1" fill="#000000"/>
<rect x="595" y="171" width="3" height="1" fill="#000000"/>
<rect x="595" y="166" width="8" height="1" fill="#000000"/>
<rect x="595" y="161" width="3" height="1" fill="#000000"/>
<rect x="595" y="156" width="3" height="1" fill="#000000"/>
<rect x="595" y="151" width="3" height="1" fill="#000000"/>
<rect x="595" y="146" width="3" height="1" fill="#000000"/>
<rect x="595" y="142" width="8" height="1" fill="#000000"/>
<rect x="595" y="137" width="3" height="1" fill="#000000"/>
<rect x="595" y="132" width="3" height="1" fill="#000000"/>
<rect x="595" y="127" width="3" height="1" fill="#000000"/>
<rect x="595" y="122" width="3" height="1" fill="#000000"/>
<rect x="595" y="117" width="8" height="1" fill="#000000"/>
<rect x="595" y="112" width="3" height="1" fill="#000000"/>
<rect x="595" y="107" width="3" height="1" fill="#000000"/>
<rect x="595" y="103" width="3" height="1" fill="#000000"/>
<rect x="595" y="98" width="3" height="1" fill="#000000"/>
<rect x="595" y="93" width="8" height="1" fill="#000000"/>
<rect x="595" y="546" width="8" height="1" fill="#000000"/>
<rect x="595" y="543" width="3" height="1" fill="#000000"/>
<rect x="595" y="540" width="3" height="1" fill="#000000"/>
<rect x="595" y="538" width="3" height="1" fill="#000000"/>
<rect x="595" y="535" width="3" height="1" fill="#000000"/>
<rect x="595" y="532" width="8" height="1" fill="#000000"/>
<rect x="595" y="529" width="3" height="1" fill="#000000"/>
<rect x="595" y="526" width="3" height="1" fill="#000000"/>
<rect x="595" y="523" width="3" height="1" fill="#000000"/>
<rect x="595" y="521" width="3" height="1" fill="#000000"/>
<rect x="595" y="518" width="8" height="1" fill="#000000"/>
<rect x="595" y="515" width="3" height="1" fill="#000000"/>
<rect x="595" y="512" width="3" height="1" fill="#000000"/>
<rect x="595" y="509" width="3" height="1" fill="#000000"/>
<rect x="595" y="506" width="3" height="1" fill="#000000"/>
<rect x="595" y="504" width="8" height="1" fill="#000000"/>
<rect x="595" y="501" width="3" height="1" fill="#000000"/>
<rect x="595" y="498" width="3" height="1" fill="#000000"/>
<rect x="595" y="495" width="3" height="1" fill="#000000"/>
<rect x="595" y="492" width="3" height="1" fill="#000000"/>
<rect x="595" y="489" width="8" height="1" fill="#000000"/>
<rect x="595" y="487" width="3" height="1" fill="#000000"/>
<rect x="595" y="484" width="3" height="1" fill="#000000"/>
<rect x="595" y="481" width="3" height="1" fill="#000000"/>
<rect x="595" y="478" width="3" height="1" fill="#000000"/>
<rect x="595" y="475" width="8" height="1" fill="#000000"/>
<rect x="595" y="472" width="3" height="1" fill="#000000"/>
<rect x="595" y="470" width="3" height="1" fill="#000000"/>
<rect x="595" y="467" width="3" height="1" fill="#000000"/>
<rect x="595" y="464" width="3" height="1" fill="#000000"/>
<rect x="595" y="461" width="8" height="1" fill="#000000"/>
<rect x="595" y="458" width="3" height="1" fill="#000000"/>
<rect x="595" y="455" width="3" height="1" fill="#000000"/>
<rect x="595" y="453" width="3" height="1" fill="#000000"/>
<rect x="595" y="450" width="3" height="1" fill="#000000"/>
<rect x="595" y="447" width="8" height="1" fill="#000000"/>
<rect x="595" y="444" width="3" height="1" fill="#000000"/>
<rect x="595" y="441" width="3" height="1" fill="#000000"/>
<rect x="595" y="439" width="3" height="1" fill="#000000"/>
<rect x="595" y="436" width="3" height="1" fill="#000000"/>
<rect x="595" y="433" width="8" height="1" fill="#000000"/>
<rect x="595" y="430" width="3" height="1" fill="#000000"/>
<rect x="595" y="427" width="3" height="1" fill="#000000"/>
<rect x="595" y="424" width="3" height="1" fill="#000000"/>
<rect x="595" y="422" width="3" height="1" fill="#000000"/>
<rect x="595" y="419" width="8" height="1" fill="#000000"/>
<rect x="595" y="416" width="3" height="1" fill="#000000"/>
<rect x="595" y="413" width="3" height="1" fill="#000000"/>
<rect x="595" y="410" width="3" height="1" fill="#000000"/>
<rect x="595" y="407" width="3" height="1" fill="#000000"/>
<rect x="595" y="405" width="8" height="1" fill="#000000"/>
<rect x="595" y="402" width="3" height="1" fill="#000000"/>
<rect x="595" y="399" width="3" height="1" fill="#000000"/>
<rect x="595" y="396" width="3" height="1" fill="#000000"/>
<rect x="595" y="393" width="3" height="1" fill="#000000"/>
<rect x="595" y="390" width="8" height="1" fill="#000000"/>
<rect x="595" y="388" width="3" height="1" fill="#000000"/>
<rect x="595" y="385" width="3" height="1" fill="#000000"/>
<rect x="595" y="382" width="3" height="1" fill="#000000"/>
<rect x="595" y="379" width="3" height="1" fill="#000000"/>
<rect x="595" y="376" width="8" height="1" fill="#000000"/>
<rect x="595" y="373" width="3" height="1" fill="#000000"/>
<rect x="595" y="371" width="3" height="1" fill="#000000"/>
<rect x="595" y="368" width="3" height="1" fill="#000000"/>
<rect x="595" y="365" width="3" height="1" fill="#000000"/>
<rect x="595" y="362" width="8" height="1" fill="#000000"/>
<rect x="595" y="359" width="3" height="1" fill="#000000"/>
<rect x="595" y="356" width="3" height="1" fill="#000000"/>
<rect x="595" y="354" width="3" height="1" fill="#000000"/>
<rect x="595" y="351" width="3" height="1" fill="#000000"/>
<rect x="595" y="348" width="8" height="1" fill="#000000"/>
<rect x="595" y="345" width="3" height="1" fill="#000000"/>
<rect x="595" y="342" width="3" height="1" fill="#000000"/>
<rect x="595" y="340" width="3" height="1" fill="#000000"/>
<rect x="595" y="337" width="3" height="1" fill="#000000"/>
<rect x="595" y="334" width="8" height="1" fill="#000000"/>
<rect x="595" y="331" width="3" height="1" fill="#000000"/>
<rect x="595" y="328" width="3" height="1" fill="#000000"/>
<rect x="595" y="325" width="3" height="1" fill="#000000"/>
<rect x="595" y="323" width="3" height="1" fill="#000000"/>
<rect x="595" y="320" width="8" height="1" fill="#000000"/>
<rect x="595" y="317" width="3" height="1" fill="#000000"/>
<rect x="595" y="314" width="3" height="1" fill="#000000"/>
<rect x="595" y="311" width="3" height="1" fill="#000000"/>
<rect x="595" y="308" width="3" height="1" fill="#000000"/>
<rect x="595" y="306" width="8" height="1" fill="#000000"/>
<rect x="595" y="303" width="3" height="1" fill="#000000"/>
<rect x="595" y="300" width="3" height="1" fill="#000000"/>
<rect x="595" y="297" width="3" height="1" fill="#000000"/>
<rect x="595" y="294" width="3" height="1" fill="#000000"/>
<rect x="595" y="291" width="8" height="1" fill="#000000"/>
<rect x="595" y="289" width="3" height="1" fill="#000000"/>
<rect x="595" y="286" width="3" height="1" fill="#000000"/>
<rect x="595" y="283" width="3" height="1" fill="#000000"/>
<rect x="595" y="280" width="3" height="1" fill="#000000"/>
<rect x="595" y="277" width="8" height="1" fill="#000000"/>
<rect x="595" y="274" width="3" height="1" fill="#000000"/>
<rect x="595" y="272" width="3" height="1" fill="#000000"/>
<rect x="595" y="269" width="3" height="1" fill="#000000"/>
<rect x="595" y="266" width="3" height="1" fill="#000000"/>
<rect x="595" y="263" width="8" height="1" fill="#000000"/>
<rect x="595" y="260" width="3" height="1" fill="#000000"/>
<rect x="595" y="258" width="3" height="1" fill="#000000"/>
<rect x="595" y="255" width="3" height="1" fill="#000000"/>
<rect x="595" y="252" width="3" height="1" fill="#000000"/>
<rect x="595" y="249" width="8" height="1" fill="#000000"/>
<rect x="595" y="246" width="3" height="1" fill="#000000"/>
<rect x="595" y="243" width="3" height="1" fill="#000000"/>
<rect x="595" y="241" width="3" height="1" fill="#000000"/>
<rect x="595" y="238" width="3" height="1" fill="#000000"/>
<rect x="595" y="235" width="8" height="1" fill="#000000"/>
<rect x="595" y="232" width="3" height="1" fill="#000000"/>
<rect x="595" y="229" width="3" height="1" fill="#000000"/>
<rect x="595" y="226" width="3" height="1" fill="#000000"/>
<rect x="595" y="224" width="3" height="1" fill="#000000"/>
<rect x="595" y="221" width="8" height="1" fill="#000000"/>
<rect x="595" y="218" width="3" height="1" fill="#000000"/>
<rect x="595" y="215" width="3" height="1" fill="#000000"/>
<rect x="595" y="212" width="3" height="1" fill="#000000"/>
<rect x="595" y="209" width="3" height="1" fill="#000000"/>
<rect x="595" y="207" width="8" height="1" fill="#000000"/>
<rect x="595" y="204" width="3" height="1" fill="#000000"/>
<rect x="595" y="201" width="3" height="1" fill="#000000"/>
<rect x="595" y="198" width="3" height="1" fill="#000000"/>
<rect x="595" y="195" width="3" height="1" fill="#000000"/>
<rect x="595" y="192" width="8" height="1" fill="#000000"/>
<rect x="595" y="190" width="3" height="1" fill="#000000"/>
<rect x="595" y="639" width="8" height="1" fill="#000000"/>
<rect x="595" y="635" width="3" height="1" fill="#000000"/>
<rect x="595" y="632" width="3" height="1" fill="#000000"/>
<rect x="595" y="629" width="3" height="1" fill="#000000"/>
<rect x="595" y="626" width="3" height="1" fill="#000000"/>
<rect x="595" y="623" width="8" height="1" fill="#000000"/>
<rect x="595" y="620" width="3" height="1" fill="#000000"/>
<rect x="595" y="616" width="3" height="1" fill="#000000"/>
<rect x="595" y="613" width="3" height="1" fill="#000000"/>
<rect x="595" y="610" width="3" height="1" fill="#000000"/>
<rect x="595" y="607" width="8" height="1" fill="#000000"/>
<rect x="595" y="604" width="3" height="1" fill="#000000"/>
<rect x="595" y="601" width="3" height="1" fill="#000000"/>
<rect x="595" y="597" width="3" height="1" fill="#000000"/>
<rect x="595" y="594" width="3" height="1" fill="#000000"/>
<rect x="595" y="591" width="8" height="1" fill="#000000"/>
<rect x="595" y="588" width="3" height="1" fill="#000000"/>
<rect x="595" y="585" width="3" height="1" fill="#000000"/>
<rect x="595" y="582" width="3" height="1" fill="#000000"/>
<rect x="595" y="578" width="3" height="1" fill="#000000"/>
<rect x="595" y="575" width="8" height="1" fill="#000000"/>
<rect x="595" y="572" width="3" height="1" fill="#000000"/>
<rect x="595" y="569" width="3" height="1" fill="#000000"/>
<rect x="595" y="566" width="3" height="1" fill="#000000"/>
<rect x="595" y="563" width="3" height="1" fill="#000000"/>
<rect x="595" y="559" width="8" height="1" fill="#000000"/>
<rect x="595" y="556" width="3" height="1" fill="#000000"/>
<rect x="595" y="553" width="3" height="1" fill="#000000"/>
<rect x="0" y="645" width="594" height="1" fill="#000000"/>
<rect x="6" y="646" width="1" height="4" fill="#000000"/>
<rect x="21" y="646" width="1" height="4" fill="#000000"/>
<rect x="36" y="646" width="1" height="4" fill="#000000"/>
<rect x="67" y="646" width="1" height="4" fill="#000000"/>
<rect x="82" y="646" width="1" height="4" fill="#000000"/>
<rect x="97" y="646" width="1" height="4" fill="#000000"/>
<rect x="128" y="646" width="1" height="4" fill="#000000"/>
<rect x="143" y="646" width="1" height="4" fill="#000000"/>
<rect x="158" y="646" width="1" height="4" fill="#000000"/>
<rect x="173" y="646" width="1" height="4" fill="#000000"/>
<rect x="188" y="646" width="1" height="4" fill="#000000"/>
<rect x="200" y="646" width="1" height="4" fill="#000000"/>
<rect x="216" y="646" width="1" height="4" fill="#000000"/>
<rect x="231" y="646" width="1" height="4" fill="#000000"/>
<rect x="252" y="646" width="1" height="4" fill="#000000"/>
<rect x="267" y="646" width="1" height="4" fill="#000000"/>
<rect x="282" y="646" width="1" height="4" fill="#000000"/>
<rect x="313" y="646" width="1" height="4" fill="#000000"/>
<rect x="328" y="646" width="1" height="4" fill="#000000"/>
<rect x="343" y="646" width="1" height="4" fill="#000000"/>
<rect x="358" y="646" width="1" height="4" fill="#000000"/>
<rect x="374" y="646" width="1" height="4" fill="#000000"/>
<rect x="389" y="646" width="1" height="4" fill="#000000"/>
<rect x="404" y="646" width="1" height="4" fill="#000000"/>
<rect x="419" y="646" width="1" height="4" fill="#000000"/>
<rect x="434" y="646" width="1" height="4" fill="#000000"/>
<rect x="450" y="646" width="1" height="4" fill="#000000"/>
<rect x="465" y="646" width="1" height="4" fill="#000000"/>
<rect x="480" y="646" width="1" height="4" fill="#000000"/>
<rect x="504" y="646" width="1" height="4" fill="#000000"/>
<rect x="519" y="646" width="1" height="4" fill="#000000"/>
<rect x="535" y="646" width="1" height="4" fill="#000000"/>
<rect x="550" y="646" width="1" height="4" fill="#000000"/>
<rect x="556" y="646" width="1" height="4" fill="#000000"/>
<rect x="565" y="646" width="1" height="4" fill="#000000"/>
<rect x="580" y="646" width="1" height="4" fill="#000000"/>
<rect x="0" y="646" width="1" height="19" fill="#000000"/>
<rect x="52" y="646" width="1" height="19" fill="#000000"/>
<rect x="112" y="646" width="1" height="19" fill="#000000"/>
<rect x="176" y="646" width="1" height="19" fill="#000000"/>
<rect x="237" y="646" width="1" height="19" fill="#000000"/>
<rect x="298" y="646" width="1" height="19" fill="#000000"/>
<rect x="361" y="646" width="1" height="19" fill="#000000"/>
<rect x="431" y="646" width="1" height="19" fill="#000000"/>
<rect x="495" y="646" width="1" height="19" fill="#000000"/>
<rect x="0" y="665" width="646" height="1" fill="#f0f0f0"/>
<rect x="596" y="647" width="50" height="18" fill="#eeeeee"/>
<rect x="594" y="646" width="1" height="19" fill="#f4f4f4"/>
<rect x="0" y="87" width="646" height="1" fill="#f0f0f0"/>
<rect x="0" y="88" width="646" height="1" fill="#ffffff"/>
<rect x="0" y="89" width="646" height="1" fill="#a0a0a0"/>
<rect x="0" y="90" width="645" height="1" fill="#696969"/>
<rect x="0" y="185" width="646" height="1" fill="#f0f0f0"/>
<rect x="0" y="186" width="646" height="1" fill="#ffffff"/>
<rect x="0" y="187" width="646" height="1" fill="#a0a0a0"/>
<rect x="0" y="188" width="645" height="1" fill="#696969"/>
<rect x="0" y="549" width="646" height="1" fill="#f0f0f0"/>
<rect x="0" y="550" width="646" height="1" fill="#ffffff"/>
<rect x="0" y="551" width="646" height="1" fill="#a0a0a0"/>
<rect x="0" y="552" width="645" height="1" fill="#696969"/>
<text x="641.6" y="51.5" font-family="Liberation Sans, sans-serif" font-size="12" fill="#000000" text-anchor="end" letter-spacing="1.0">50</text>
<text x="641.6" y="123" font-family="Liberation Sans, sans-serif" font-size="12" fill="#000000" text-anchor="end" letter-spacing="0.33">1000</text>
<text x="641.6" y="147.5" font-family="Liberation Sans, sans-serif" font-size="12" fill="#000000" text-anchor="end" letter-spacing="0.35">500</text>
<text x="641.6" y="171.5" font-family="Liberation Sans, sans-serif" font-size="12" fill="#000000" text-anchor="end">0</text>
<text x="641.6" y="537.9545" font-family="Liberation Sans, sans-serif" font-size="12" fill="#000000" text-anchor="end" letter-spacing="0.35">8000</text>
<text x="641.6" y="523.813" font-family="Liberation Sans, sans-serif" font-size="12" fill="#000000" text-anchor="end" letter-spacing="0.35">8500</text>
<text x="641.6" y="509.67150000000004" font-family="Liberation Sans, sans-serif" font-size="12" fill="#000000" text-anchor="end" letter-spacing="0.35">9000</text>
<text x="641.6" y="495.53" font-family="Liberation Sans, sans-serif" font-size="12" fill="#000000" text-anchor="end" letter-spacing="0.35">9500</text>
<text x="641.6" y="481.3885" font-family="Liberation Sans, sans-serif" font-size="12" fill="#000000" text-anchor="end" letter-spacing="0.35">10000</text>
<text x="641.6" y="467.247" font-family="Liberation Sans, sans-serif" font-size="12" fill="#000000" text-anchor="end" letter-spacing="0.35">10500</text>
<text x="641.6" y="453.1055" font-family="Liberation Sans, sans-serif" font-size="12" fill="#000000" text-anchor="end" letter-spacing="0.35">11000</text>
<text x="641.6" y="438.964" font-family="Liberation Sans, sans-serif" font-size="12" fill="#000000" text-anchor="end" letter-spacing="0.35">11500</text>
<text x="641.6" y="424.8225" font-family="Liberation Sans, sans-serif" font-size="12" fill="#000000" text-anchor="end" letter-spacing="0.35">12000</text>
<text x="641.6" y="410.68100000000004" font-family="Liberation Sans, sans-serif" font-size="12" fill="#000000" text-anchor="end" letter-spacing="0.35">12500</text>
<text x="641.6" y="396.5395" font-family="Liberation Sans, sans-serif" font-size="12" fill="#000000" text-anchor="end" letter-spacing="0.35">13000</text>
<text x="641.6" y="382.398" font-family="Liberation Sans, sans-serif" font-size="12" fill="#000000" text-anchor="end" letter-spacing="0.35">13500</text>
<text x="641.6" y="368.2565" font-family="Liberation Sans, sans-serif" font-size="12" fill="#000000" text-anchor="end" letter-spacing="0.35">14000</text>
<text x="641.6" y="354.115" font-family="Liberation Sans, sans-serif" font-size="12" fill="#000000" text-anchor="end" letter-spacing="0.35">14500</text>
<text x="641.6" y="339.9735" font-family="Liberation Sans, sans-serif" font-size="12" fill="#000000" text-anchor="end" letter-spacing="0.35">15000</text>
<text x="641.6" y="325.832" font-family="Liberation Sans, sans-serif" font-size="12" fill="#000000" text-anchor="end" letter-spacing="0.35">15500</text>
<text x="641.6" y="311.69050000000004" font-family="Liberation Sans, sans-serif" font-size="12" fill="#000000" text-anchor="end" letter-spacing="0.35">16000</text>
<text x="641.6" y="297.54900000000004" font-family="Liberation Sans, sans-serif" font-size="12" fill="#000000" text-anchor="end" letter-spacing="0.35">16500</text>
<text x="641.6" y="283.4075" font-family="Liberation Sans, sans-serif" font-size="12" fill="#000000" text-anchor="end" letter-spacing="0.35">17000</text>
<text x="641.6" y="269.266" font-family="Liberation Sans, sans-serif" font-size="12" fill="#000000" text-anchor="end" letter-spacing="0.35">17500</text>
<text x="641.6" y="240.98299999999998" font-family="Liberation Sans, sans-serif" font-size="12" fill="#000000" text-anchor="end" letter-spacing="0.35">18500</text>
<text x="641.6" y="226.8415" font-family="Liberation Sans, sans-serif" font-size="12" fill="#000000" text-anchor="end" letter-spacing="0.35">19000</text>
<text x="641.6" y="212.7" font-family="Liberation Sans, sans-serif" font-size="12" fill="#000000" text-anchor="end" letter-spacing="0.35">19500</text>
<text x="641.6" y="565.5" font-family="Liberation Sans, sans-serif" font-size="12" fill="#000000" text-anchor="end" letter-spacing="0.35">25000</text>
<text x="641.6" y="581.32" font-family="Liberation Sans, sans-serif" font-size="12" fill="#000000" text-anchor="end" letter-spacing="0.35">20000</text>
<text x="641.6" y="597.14" font-family="Liberation Sans, sans-serif" font-size="12" fill="#000000" text-anchor="end" letter-spacing="0.35">15000</text>
<text x="641.6" y="612.96" font-family="Liberation Sans, sans-serif" font-size="12" fill="#000000" text-anchor="end" letter-spacing="0.35">10000</text>
<text x="641.6" y="628.78" font-family="Liberation Sans, sans-serif" font-size="12" fill="#000000" text-anchor="end" letter-spacing="0.35">5000</text>
<text x="641.6" y="644" font-family="Liberation Sans, sans-serif" font-size="12" fill="#000000" text-anchor="end">0</text>
<rect x="596" y="632" width="33" height="13" fill="#ffffff"/>
<rect x="595" y="632" width="1" height="13" fill="#ffffff"/>
<rect x="596" y="632" width="34" height="1" fill="#000000"/>
<rect x="596" y="632" width="1" height="13" fill="#000000"/>
<rect x="629" y="632" width="1" height="13" fill="#000000"/>
<rect x="595" y="633" width="1" height="1" fill="#000000"/>
<rect x="595" y="636" width="1" height="1" fill="#000000"/>
<rect x="595" y="639" width="1" height="1" fill="#000000"/>
<rect x="595" y="641" width="1" height="1" fill="#000000"/>
<rect x="595" y="644" width="1" height="1" fill="#000000"/>
<text x="597.6" y="641.8" font-family="Liberation Sans, sans-serif" font-size="9.4" fill="#000000" text-anchor="start">x10000</text>
<rect x="599" y="242" width="46" height="16" fill="#000000"/>
<text x="601" y="253.6" font-family="Liberation Sans, sans-serif" font-size="10.4" fill="#00ff00" text-anchor="start">17950.00</text>
<text x="1.2" y="662" font-family="Liberation Sans, sans-serif" font-size="12" fill="#000000" text-anchor="start" letter-spacing="0.9">2025</text>
<text x="53.5" y="662" font-family="Liberation Sans, sans-serif" font-size="12" fill="#000000" text-anchor="start">February</text>
<text x="113.5" y="662" font-family="Liberation Sans, sans-serif" font-size="12" fill="#000000" text-anchor="start">March</text>
<text x="178.2" y="662" font-family="Liberation Sans, sans-serif" font-size="12" fill="#000000" text-anchor="start">April</text>
<text x="238.5" y="662" font-family="Liberation Sans, sans-serif" font-size="12" fill="#000000" text-anchor="start" letter-spacing="-0.4">May</text>
<text x="300" y="662" font-family="Liberation Sans, sans-serif" font-size="12" fill="#000000" text-anchor="start" letter-spacing="0.1">June</text>
<text x="363.4" y="662" font-family="Liberation Sans, sans-serif" font-size="12" fill="#000000" text-anchor="start">July</text>
<text x="433.1" y="662" font-family="Liberation Sans, sans-serif" font-size="12" fill="#000000" text-anchor="start" letter-spacing="0.2">August</text>
<text x="496.8" y="662" font-family="Liberation Sans, sans-serif" font-size="12" fill="#000000" text-anchor="start" letter-spacing="0.28">September</text>
</svg>
</body></html>
